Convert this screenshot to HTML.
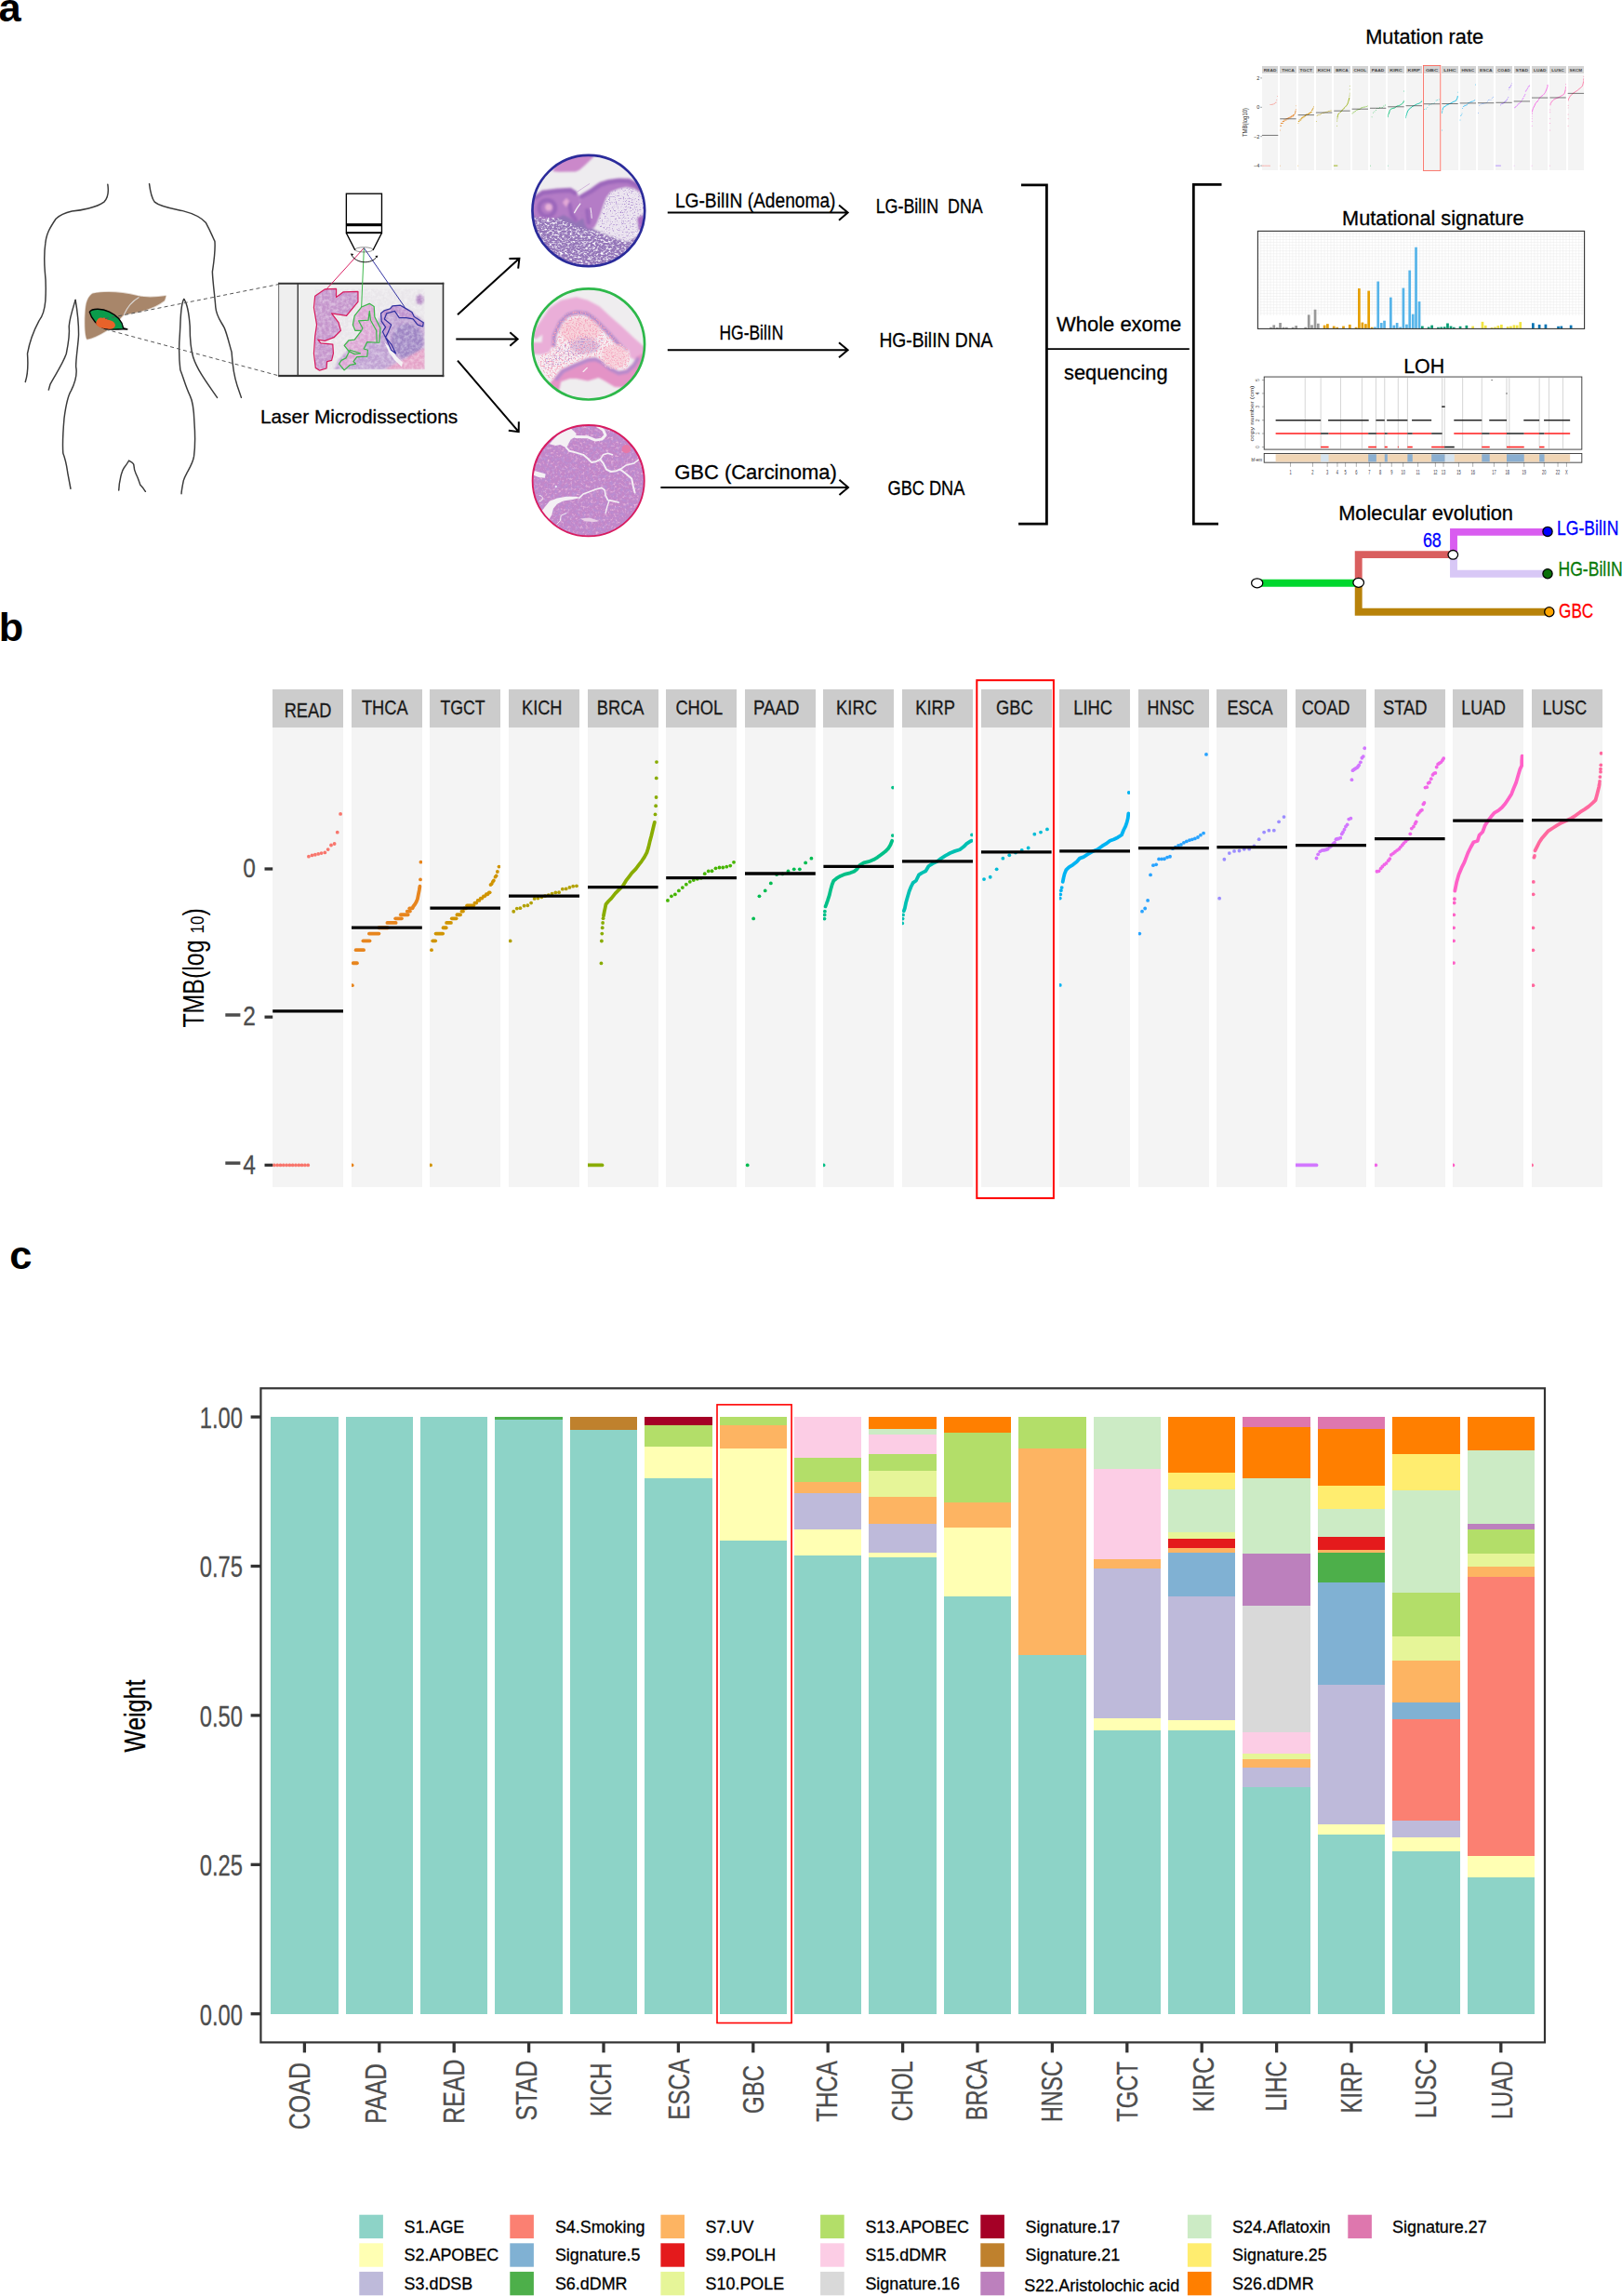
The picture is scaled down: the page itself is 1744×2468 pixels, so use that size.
<!DOCTYPE html>
<html><head><meta charset="utf-8"><title>Figure</title>
<style>html,body{margin:0;padding:0;background:#fff}svg{display:block}text{font-family:"Liberation Sans",sans-serif}</style>
</head><body>
<svg width="1744" height="2468" viewBox="0 0 1744 2468">
<rect width="1744" height="2468" fill="#fff"/>
<g id="panel-a">
<g transform="translate(10,180) scale(0.172622)" fill="none" stroke="#3A3A3A" stroke-width="8.5" stroke-linecap="round" stroke-linejoin="round">
<path d="M613,105 C620,150 615,190 590,215 C540,250 450,268 390,272 C330,285 305,305 290,320 C250,380 232,410 225,470 C215,540 218,600 222,650 C230,720 228,780 225,830 C220,890 205,930 185,955 C150,1020 125,1090 113,1160 C118,1230 115,1290 100,1335"/>
<path d="M412,825 C395,880 375,940 372,990 C378,1040 365,1110 355,1160 C330,1230 280,1300 255,1350 L245,1385"/>
<path d="M412,825 C425,900 432,960 432,1040 C430,1100 415,1180 415,1240 C425,1290 405,1350 385,1390 C360,1430 350,1500 342,1560 C335,1640 330,1720 335,1780 C355,1830 360,1880 365,1910 L382,2000"/>
<path d="M872,102 C878,150 890,195 905,215 C940,245 1010,255 1080,270 C1150,288 1200,315 1225,345 C1255,400 1265,430 1280,460 C1285,520 1275,580 1265,650 C1268,720 1280,800 1285,870 C1290,930 1320,960 1340,1000 C1360,1050 1370,1100 1385,1150 C1390,1230 1400,1300 1420,1360 L1445,1433"/>
<path d="M1088,820 C1110,850 1120,920 1125,990 C1125,1060 1130,1130 1145,1180 C1170,1260 1230,1340 1295,1433"/>
<path d="M1088,820 C1065,850 1068,950 1062,1040 C1055,1120 1058,1200 1065,1260 C1085,1310 1100,1370 1125,1420 C1145,1460 1150,1520 1152,1580 C1158,1660 1158,1740 1150,1800 C1140,1860 1100,1900 1085,1950 C1075,2000 1072,2020 1072,2032"/>
<path d="M682,2010 C685,1950 700,1890 715,1870 C730,1850 740,1835 745,1825 C765,1835 772,1842 775,1850 C778,1890 785,1900 790,1910 C805,1940 810,1960 815,1975 C830,1990 840,2005 848,2018"/>
</g>
<g transform="translate(10,180) scale(0.172622)">
<path d="M520,785 C600,770 700,775 800,800 C870,815 930,805 975,800 C972,815 970,822 965,830 C900,880 800,905 715,915 C680,950 640,1000 600,1020 C560,1045 520,1065 485,1070 C470,1050 468,950 475,880 C480,830 495,800 520,785 Z" fill="#A8866A" stroke="#E2D8D0" stroke-width="10" stroke-linejoin="round"/>
<path d="M520,785 C600,770 700,775 800,800 C870,815 930,805 975,800 C972,815 970,822 965,830 C900,880 800,905 715,915 C680,950 640,1000 600,1020 C560,1045 520,1065 485,1070 C470,1050 468,950 475,880 C480,830 495,800 520,785 Z" fill="#A8866A"/>
<path d="M808,808 C770,830 735,870 715,915" fill="none" stroke="#D9D5D2" stroke-width="7"/>
<path d="M500,900 C515,875 580,878 622,898 C672,922 705,958 710,1000 L735,1008 C690,1003 650,1015 600,1005 C545,985 510,940 500,900 Z" fill="#0A9B4B" stroke="#000" stroke-width="8" stroke-linejoin="round"/>
<path d="M540,965 C548,940 565,930 580,938 C595,930 605,940 612,948 C640,950 662,965 660,985 C655,1003 640,1008 620,1006 C600,1002 580,1002 565,996 C548,988 538,978 540,965 Z" fill="#E8622A"/>
</g>
<g stroke="#555" stroke-width="1" stroke-dasharray="4 3.2" fill="none"><line x1="113" y1="342.6" x2="299.5" y2="305.6"/><line x1="113.5" y1="354" x2="299.5" y2="403.8"/></g>
<g transform="translate(290,195) scale(0.123305)">
<rect x="80" y="888" width="1435" height="812" fill="#EFEFEF"/>
<g fill="#333"><rect x="76" y="882" width="1443" height="16"/><rect x="76" y="1686" width="1443" height="18"/><rect x="76" y="882" width="6" height="822"/><rect x="1506" y="882" width="13" height="822"/><rect x="240" y="890" width="11" height="800"/></g>
<defs><clipPath id="slc"><rect x="395" y="935" width="957" height="705"/></clipPath><filter id="spk" x="0" y="0" width="100%" height="100%"><feTurbulence type="fractalNoise" baseFrequency="0.035" numOctaves="3" seed="4"/><feColorMatrix type="matrix" values="0 0 0 0 1  0 0 0 0 1  0 0 0 0 1  1.6 0 0 0 -0.55"/></filter><filter id="blr"><feGaussianBlur stdDeviation="9"/></filter></defs>
<g clip-path="url(#slc)">
<rect x="395" y="935" width="957" height="705" fill="#E9E6EA"/>
<g filter="url(#blr)">
<path d="M560,1640 L600,1560 L680,1470 L760,1420 L860,1330 L930,1250 L960,1180 L1000,1130 L1100,1090 L1200,1110 L1300,1180 L1352,1230 L1352,1640 Z" fill="#BFA0D2"/>
<ellipse cx="1200" cy="1390" rx="135" ry="150" fill="#9F86C4"/>
<path d="M1000,1640 L1150,1560 L1352,1450 L1352,1640 Z" fill="#E5A3C8"/>
<ellipse cx="1310" cy="1030" rx="35" ry="45" fill="#B48AC4"/>
</g>
<path d="M395,1000 L480,940 L580,935 L580,1010 L640,965 L770,960 L770,1050 L670,1170 L540,1150 L600,1230 L620,1300 L560,1360 L480,1390 L420,1380 L445,1410 L550,1420 L555,1500 L540,1560 L500,1570 L495,1630 L435,1648 L400,1625 L385,1500 L395,1350 L410,1250 L385,1100 Z" fill="#C595CC"/>
<path d="M800,1095 L870,1065 L910,1090 L915,1180 L965,1280 L955,1405 L850,1400 L820,1460 L855,1470 L850,1525 L760,1530 L730,1570 L750,1590 L700,1600 L650,1645 L605,1590 L625,1560 L665,1540 L690,1480 L650,1430 L690,1385 L740,1380 L800,1300 L745,1300 L725,1250 L740,1170 Z" fill="#DCA6D4"/>
<path d="M970,1150 L1000,1125 L1050,1110 L1070,1085 L1140,1080 L1190,1110 L1240,1140 L1260,1180 L1340,1230 L1335,1265 L1290,1250 L1250,1200 L1190,1190 L1130,1190 L1090,1130 L1020,1150 L1000,1200 L1060,1250 L1030,1320 L1010,1360 L1060,1420 L1100,1500 L1060,1470 L1020,1380 L985,1310 L1010,1270 L975,1220 Z" fill="#BE92CE"/>
<path d="M1000,1400 L1040,1440 L1110,1530 L1160,1580 L1150,1615 L1090,1560 L1040,1490 Z" fill="#F3F0F3"/>
<rect x="395" y="935" width="957" height="705" filter="url(#spk)" opacity="0.55"/>
</g>
<g fill="none" stroke-width="8"><line x1="822" y1="580" x2="490" y2="945" stroke="#D81B60"/><line x1="822" y1="580" x2="800" y2="1095" stroke="#3CB84A"/><line x1="822" y1="580" x2="1180" y2="1100" stroke="#3030A0"/></g>
<path d="M395,1000 L480,940 L580,935 L580,1010 L640,965 L770,960 L770,1050 L670,1170 L540,1150 L600,1230 L620,1300 L560,1360 L480,1390 L420,1380 L445,1410 L550,1420 L555,1500 L540,1560 L500,1570 L495,1630 L435,1648 L400,1625 L385,1500 L395,1350 L410,1250 L385,1100 Z" fill="none" stroke="#D81B60" stroke-width="10" stroke-linejoin="round"/>
<path d="M800,1095 L870,1065 L910,1090 L915,1180 L965,1280 L955,1405 L935,1405 L930,1300 L880,1210 L870,1130 L860,1210 L775,1215 L810,1280 L800,1300 L745,1300 L725,1250 L740,1170 Z M800,1300 L740,1380 L690,1385 L650,1430 L690,1480 L740,1505 L790,1500 L700,1470 L665,1540 L625,1560 L605,1590 L650,1645 L700,1600 L750,1590 L730,1570 L760,1530 L850,1525 L855,1470 L820,1460 L850,1400 L935,1405" fill="none" stroke="#3CB84A" stroke-width="10" stroke-linejoin="round"/>
<path d="M970,1150 L1000,1125 L1050,1110 L1070,1085 L1140,1080 L1190,1110 L1240,1140 L1260,1180 L1340,1230 L1335,1265 L1290,1250 L1250,1200 L1190,1190 L1130,1190 L1090,1130 L1020,1150 L1000,1200 L1060,1250 L1030,1320 L1010,1360 L1060,1420 L1100,1500 L1060,1470 L1020,1380 L985,1310 L1010,1270 L975,1220 Z" fill="none" stroke="#3030A0" stroke-width="10" stroke-linejoin="round"/>
<g fill="none" stroke="#000" stroke-width="11"><rect x="668" y="107" width="309" height="343"/><path d="M668,450 L745,600 M977,450 L900,600"/><line x1="668" y1="445" x2="977" y2="445"/></g>
<rect x="668" y="366" width="309" height="25" fill="#000"/>
<ellipse cx="822" cy="595" rx="78" ry="21" fill="none" stroke="#222" stroke-width="4"/>
<path d="M712,637 C750,720 890,725 935,655" fill="none" stroke="#111" stroke-width="8"/>
<path d="M704,628 l28,5 l-15,18 z M944,646 l-26,3 l18,18 z" fill="#111"/>
</g>
<text x="279.9" y="455.2" font-size="20.6" fill="#000" stroke="#000" stroke-width="0.3" textLength="212.3" lengthAdjust="spacingAndGlyphs">Laser Microdissections</text>
<path d="M492,338.2 L558.4,277.8 M557.16,288.73 L558.4,277.8 L547.4,278" fill="none" stroke="#000" stroke-width="2" stroke-linejoin="miter"/>
<path d="M490.3,364.4 L556.6,364.4 M548.33,371.65 L556.6,364.4 L548.33,357.15" fill="none" stroke="#000" stroke-width="2" stroke-linejoin="miter"/>
<path d="M492,387.6 L557.7,464.2 M546.81,462.64 L557.7,464.2 L557.82,453.2" fill="none" stroke="#000" stroke-width="2" stroke-linejoin="miter"/>
<path d="M717.8,228.6 L911.6,228.6 M902.04,236.65 L911.6,228.6 L902.04,220.55" fill="none" stroke="#000" stroke-width="2" stroke-linejoin="miter"/>
<path d="M717.8,376.3 L911.6,376.3 M902.04,384.35 L911.6,376.3 L902.04,368.25" fill="none" stroke="#000" stroke-width="2" stroke-linejoin="miter"/>
<path d="M710.4,523.9 L912,523.9 M902.44,531.95 L912,523.9 L902.44,515.85" fill="none" stroke="#000" stroke-width="2" stroke-linejoin="miter"/>
<text x="725.9" y="223.2" font-size="22.4" fill="#000" stroke="#000" stroke-width="0.3" textLength="172.6" lengthAdjust="spacingAndGlyphs">LG-BilIN (Adenoma)</text>
<text x="941.7" y="228.8" font-size="21.8" fill="#000" stroke="#000" stroke-width="0.3" textLength="115.1" lengthAdjust="spacingAndGlyphs" style="white-space:pre">LG-BilIN  DNA</text>
<text x="773.5" y="365.4" font-size="21.8" fill="#000" stroke="#000" stroke-width="0.3" textLength="68.8" lengthAdjust="spacingAndGlyphs">HG-BilIN</text>
<text x="945.4" y="373.1" font-size="21.8" fill="#000" stroke="#000" stroke-width="0.3" textLength="122.1" lengthAdjust="spacingAndGlyphs">HG-BilIN DNA</text>
<text x="725.2" y="514.7" font-size="22.4" fill="#000" stroke="#000" stroke-width="0.3" textLength="174.6" lengthAdjust="spacingAndGlyphs">GBC (Carcinoma)</text>
<text x="954.5" y="532.4" font-size="21.8" fill="#000" stroke="#000" stroke-width="0.3" textLength="82.9" lengthAdjust="spacingAndGlyphs">GBC DNA</text>
<path d="M1098,198.8 L1125.4,198.8 L1125.4,563.2 L1095.1,563.2" fill="none" stroke="#000" stroke-width="2.8"/>
<path d="M1313.5,198.4 L1283.3,198.4 L1283.3,563.2 L1310,563.2" fill="none" stroke="#000" stroke-width="2.8"/>
<line x1="1126" y1="375.1" x2="1278.8" y2="375.1" stroke="#000" stroke-width="1.9"/>
<text x="1136.1" y="355.5" font-size="21.5" fill="#000" stroke="#000" stroke-width="0.3" textLength="134.2" lengthAdjust="spacingAndGlyphs">Whole exome</text>
<text x="1144.1" y="407.6" font-size="21.5" fill="#000" stroke="#000" stroke-width="0.3" textLength="111.4" lengthAdjust="spacingAndGlyphs">sequencing</text>
<defs><clipPath id="cc1"><ellipse cx="809" cy="806" rx="733" ry="724"/></clipPath><clipPath id="cc2"><ellipse cx="808" cy="822" rx="732" ry="723"/></clipPath><clipPath id="cc3"><ellipse cx="807" cy="807" rx="728" ry="723"/></clipPath><filter id="wsp" x="0" y="0" width="100%" height="100%"><feTurbulence type="fractalNoise" baseFrequency="0.03 0.045" numOctaves="2" seed="7"/><feColorMatrix type="matrix" values="0 0 0 0 0.97  0 0 0 0 0.95  0 0 0 0 0.98  3.4 0 0 0 -1.55"/><feComposite in2="SourceAlpha" operator="in"/></filter><filter id="psp" x="0" y="0" width="100%" height="100%"><feTurbulence type="fractalNoise" baseFrequency="0.055" numOctaves="2" seed="11"/><feColorMatrix type="matrix" values="0 0 0 0 0.4  0 0 0 0 0.25  0 0 0 0 0.62  3.6 0 0 0 -1.95"/><feComposite in2="SourceAlpha" operator="in"/></filter><filter id="rsp" x="0" y="0" width="100%" height="100%"><feTurbulence type="fractalNoise" baseFrequency="0.05" numOctaves="2" seed="3"/><feColorMatrix type="matrix" values="0 0 0 0 0.91  0 0 0 0 0.36  0 0 0 0 0.5  4 0 0 0 -1.9"/><feComposite in2="SourceAlpha" operator="in"/></filter><filter id="rsp2" x="0" y="0" width="100%" height="100%"><feTurbulence type="fractalNoise" baseFrequency="0.08" numOctaves="2" seed="9"/><feColorMatrix type="matrix" values="0 0 0 0 0.95  0 0 0 0 0.55  0 0 0 0 0.65  4 0 0 0 -1.9"/><feComposite in2="SourceAlpha" operator="in"/></filter><filter id="dsp" x="0" y="0" width="100%" height="100%"><feTurbulence type="fractalNoise" baseFrequency="0.022" numOctaves="3" seed="21"/><feColorMatrix type="matrix" values="0 0 0 0 0.48  0 0 0 0 0.28  0 0 0 0 0.66  3.0 0 0 0 -1.3"/><feComposite in2="SourceAlpha" operator="in"/></filter><filter id="lsp" x="0" y="0" width="100%" height="100%"><feTurbulence type="fractalNoise" baseFrequency="0.03" numOctaves="3" seed="5"/><feColorMatrix type="matrix" values="0 0 0 0 0.93  0 0 0 0 0.62  0 0 0 0 0.8  2.6 0 0 0 -1.3"/><feComposite in2="SourceAlpha" operator="in"/></filter><filter id="nsp" x="0" y="0" width="100%" height="100%"><feTurbulence type="fractalNoise" baseFrequency="0.05" numOctaves="2" seed="31"/><feColorMatrix type="matrix" values="0 0 0 0 0.45  0 0 0 0 0.25  0 0 0 0 0.62  3.0 0 0 0 -1.5"/><feComposite in2="SourceAlpha" operator="in"/></filter><filter id="b4" x="-10%" y="-10%" width="120%" height="120%"><feGaussianBlur stdDeviation="13"/></filter><filter id="b2" x="-10%" y="-10%" width="120%" height="120%"><feGaussianBlur stdDeviation="6"/></filter></defs>
<g transform="translate(566,160) scale(0.082617)">
<g clip-path="url(#cc1)">
<rect x="0" y="0" width="1622" height="1622" fill="#EEECEF"/>
<g filter="url(#b4)">
<path d="M40,700 L720,700 L780,1000 L900,1060 L1000,1095 L1300,1200 L1520,1000 L1620,1000 L1620,1620 L0,1620 Z" fill="#9474B8"/>
<path d="M1040,640 L1100,560 L1200,520 L1300,500 L1400,520 L1480,570 L1560,700 L1600,1000 L1420,1150 L1300,1210 L1000,1100 L930,980 L960,860 L1000,740 Z" fill="#ECE5F0"/>
<path d="M340,290 L420,300 L640,297 L690,275 L770,205 L880,100 L800,40 L560,60 L400,180 Z" fill="#CB88CA"/>
<path d="M60,660 L200,540 L400,515 L580,505 L650,550 L690,640 L720,800 L740,900 L640,960 L560,900 L480,860 L400,900 L250,920 L120,890 L50,800 Z" fill="#B47CC6"/>
<path d="M670,620 L750,570 L830,520 L900,470 L960,430 L1060,400 L1200,380 L1340,385 L1440,440 L1560,540 L1600,720 L1480,570 L1400,520 L1300,500 L1200,520 L1100,560 L1040,640 L1000,740 L960,860 L920,960 L880,1030 L800,1040 L760,980 L740,900 L720,800 L690,640 Z" fill="#B47CC6"/>
<path d="M1440,900 L1520,850 L1560,1080 L1460,1060 Z" fill="#A868C0"/>
<g fill="none" stroke="#9560B8" stroke-linecap="round" stroke-linejoin="round" stroke-width="55" opacity="0.75">
<path d="M110,640 L210,575 L400,550 L570,540 L630,575"/>
<path d="M720,620 L840,555 L960,470 L1070,435 L1200,415 L1330,420 L1430,470 L1520,560"/>
<path d="M560,720 L590,860 L640,920"/><path d="M790,800 L810,960"/>
<circle cx="270" cy="770" r="105" stroke-width="55"/>
</g>
<circle cx="290" cy="760" r="45" fill="#E6B0D8"/>
<path d="M470,700 L520,640 L560,680 L520,760 Z" fill="#E2A8D6"/>
</g>
<g filter="url(#b2)" fill="none" stroke="#F3EEF3" stroke-linecap="round"><path d="M625,830 L660,770 L700,715" stroke-width="16"/><path d="M835,770 L845,840 L850,900" stroke-width="12"/><path d="M660,560 L720,520 L820,455" stroke="#C9A8D6" stroke-width="10"/></g>
<path d="M40,880 L400,900 L620,985 L780,1045 L900,1062 L1000,1095 L1300,1200 L1520,1000 L1620,1000 L1620,1620 L0,1620 Z" filter="url(#wsp)"/>
<path d="M1040,640 L1100,560 L1200,520 L1300,500 L1400,520 L1480,570 L1560,700 L1600,1000 L1420,1150 L1300,1210 L1000,1100 L930,980 L960,860 L1000,740 Z" filter="url(#psp)"/>
</g>
<ellipse cx="809" cy="806" rx="731" ry="722" fill="none" stroke="#2B2B9B" stroke-width="32"/>
</g>
<g transform="translate(566,302) scale(0.082617)">
<g clip-path="url(#cc2)">
<rect x="0" y="0" width="1622" height="1622" fill="#EFEDEF"/>
<g filter="url(#b4)">
<path d="M330,860 L340,700 L420,520 L520,420 L650,380 L800,400 L900,470 L1050,620 L1200,780 L1330,900 L1355,1010 L1300,1150 L1200,1170 L1100,1120 L1000,1040 L900,990 L800,1000 L600,1080 L450,1150 L340,1290 L250,1230 L150,1060 L200,960 L300,930 Z" fill="#F6EEF2"/>
<path d="M60,700 L200,500 L300,350 L450,250 L650,210 L800,250 L950,330 L1100,470 L1250,600 L1400,740 L1560,880 L1600,1100 L1350,1000 L1330,900 L1200,780 L1050,620 L900,470 L800,400 L650,380 L520,420 L420,520 L340,700 L330,860 L300,930 L200,960 L60,950 L60,800 L200,800 L210,700 L120,760 Z" fill="#EAAED8"/>
<path d="M355,860 L365,705 L440,540 L535,445 L650,410 L790,428 L885,495 L1030,640 L1180,800 L1300,915" fill="none" stroke="#B48ACC" stroke-width="55" stroke-linejoin="round"/>
<path d="M330,1300 L450,1150 L600,1080 L800,1000 L900,990 L1000,1040 L1100,1120 L1200,1170 L1300,1150 L1380,1080 L1440,980 L1600,900 L1600,1300 L1300,1385 L1150,1380 L1020,1300 L940,1260 L800,1300 L650,1270 L560,1270 L450,1310 L430,1400 L380,1500 L250,1400 Z" fill="#E493C6"/>
<path d="M380,1290 L470,1180 L610,1110 L800,1030 L900,1020 L990,1065 L1090,1145 L1200,1200 L1310,1180 L1400,1100 L1460,1000" fill="none" stroke="#B88ACC" stroke-width="50" stroke-linejoin="round"/>
<ellipse cx="700" cy="650" rx="260" ry="170" fill="#F7D3DB"/>
<ellipse cx="1150" cy="980" rx="170" ry="150" fill="#F7D9E0"/>
<ellipse cx="760" cy="850" rx="190" ry="100" fill="#DFC2DC"/>
</g>
<path d="M740,1180 L790,1130" stroke="#F6EEF2" stroke-width="16" stroke-linecap="round" filter="url(#b2)"/>
<path d="M330,860 L340,700 L420,520 L520,420 L650,380 L800,400 L900,470 L1050,620 L1200,780 L1330,900 L1355,1010 L1300,1150 L1200,1170 L1100,1120 L1000,1040 L900,990 L800,1000 L600,1080 L450,1150 L340,1290 L250,1230 L150,1060 L200,960 L300,930 Z" filter="url(#rsp)"/>
<ellipse cx="1150" cy="980" rx="200" ry="170" filter="url(#rsp2)"/>
<path d="M520,780 L760,700 L1000,760 L950,900 L700,980 L400,1100 L200,1150 L250,1000 Z" filter="url(#psp)"/>
</g>
<ellipse cx="808" cy="822" rx="730" ry="721" fill="none" stroke="#2DB84A" stroke-width="32"/>
</g>
<g transform="translate(566,450) scale(0.082617)">
<g clip-path="url(#cc3)">
<rect x="0" y="0" width="1622" height="1622" fill="#C487C8"/>
<rect x="0" y="0" width="1622" height="1622" filter="url(#lsp)" opacity="0.8"/>
<rect x="0" y="0" width="1622" height="1622" filter="url(#dsp)" opacity="0.85"/>
<rect x="0" y="0" width="1622" height="1622" filter="url(#nsp)" opacity="0.6"/>
<g filter="url(#b2)" fill="none" stroke="#F4F0F4" stroke-linejoin="round" stroke-linecap="round">
<path d="M300,330 L420,200 L580,130 L650,195 L640,240 L580,270 L550,320 L520,380 L440,340 L380,350 Z" fill="#F4F0F4" stroke="none"/>
<path d="M640,235 L800,240 L900,280 L980,268 L1030,215 L1000,150 L930,100" stroke-width="36"/>
<path d="M520,380 L560,420 L640,440 L740,470 L800,520 L850,570 L900,560 L960,530 L1000,580 L1040,660 L1100,690 L1170,680 L1220,660 L1300,720 L1370,780 L1390,880 L1410,960" stroke-width="24"/>
<path d="M960,530 L1000,470 L1060,450 L1120,470" stroke-width="18"/>
<path d="M1220,660 L1300,605 L1400,580 L1460,535" stroke-width="18"/>
<path d="M90,675 L180,700 L250,720 L240,772 L160,762 L90,735 Z" fill="#F4F0F4" stroke="none"/>
<circle cx="385" cy="885" r="14" fill="#F4F0F4" stroke="none"/>
<path d="M200,1200 L300,1075 L400,1035 L520,1015 L650,1015 L700,1030 L600,1052 L480,1072 L400,1112 L350,1172 L330,1252 L290,1320 Z" fill="#F4F0F4" stroke="none"/>
<path d="M690,1030 L740,980 L800,960 L900,920 L980,900 L1020,930 L1030,1000 L1060,1060 L1120,1070 L1200,1090" stroke-width="20"/>
<path d="M1075,1075 L1050,1150 L1030,1230" stroke-width="16"/>
<path d="M520,1230 L450,1260 L440,1330 L400,1370" stroke-width="12"/>
<path d="M170,1000 C230,1000 220,1080 170,1075" stroke-width="12"/>
<ellipse cx="1300" cy="395" rx="60" ry="55" fill="#E678A8" stroke="none"/>
<path d="M700,1300 L820,1290 L950,1330 L880,1345 L760,1335 Z" fill="#E8D0E6" stroke="none"/>
</g>
</g>
<ellipse cx="807" cy="807" rx="727" ry="722" fill="none" stroke="#D81B60" stroke-width="22"/>
</g>
<g shape-rendering="crispEdges">
<rect x="1356.9" y="71" width="17.4" height="8" fill="#D4D4D4"/>
<rect x="1356.9" y="80" width="17.4" height="103.1" fill="#F4F4F4"/>
<rect x="1376.24" y="71" width="17.4" height="8" fill="#D4D4D4"/>
<rect x="1376.24" y="80" width="17.4" height="103.1" fill="#F4F4F4"/>
<rect x="1395.58" y="71" width="17.4" height="8" fill="#D4D4D4"/>
<rect x="1395.58" y="80" width="17.4" height="103.1" fill="#F4F4F4"/>
<rect x="1414.92" y="71" width="17.4" height="8" fill="#D4D4D4"/>
<rect x="1414.92" y="80" width="17.4" height="103.1" fill="#F4F4F4"/>
<rect x="1434.26" y="71" width="17.4" height="8" fill="#D4D4D4"/>
<rect x="1434.26" y="80" width="17.4" height="103.1" fill="#F4F4F4"/>
<rect x="1453.6" y="71" width="17.4" height="8" fill="#D4D4D4"/>
<rect x="1453.6" y="80" width="17.4" height="103.1" fill="#F4F4F4"/>
<rect x="1472.94" y="71" width="17.4" height="8" fill="#D4D4D4"/>
<rect x="1472.94" y="80" width="17.4" height="103.1" fill="#F4F4F4"/>
<rect x="1492.28" y="71" width="17.4" height="8" fill="#D4D4D4"/>
<rect x="1492.28" y="80" width="17.4" height="103.1" fill="#F4F4F4"/>
<rect x="1511.62" y="71" width="17.4" height="8" fill="#D4D4D4"/>
<rect x="1511.62" y="80" width="17.4" height="103.1" fill="#F4F4F4"/>
<rect x="1530.96" y="71" width="17.4" height="8" fill="#D4D4D4"/>
<rect x="1530.96" y="80" width="17.4" height="103.1" fill="#F4F4F4"/>
<rect x="1550.3" y="71" width="17.4" height="8" fill="#D4D4D4"/>
<rect x="1550.3" y="80" width="17.4" height="103.1" fill="#F4F4F4"/>
<rect x="1569.64" y="71" width="17.4" height="8" fill="#D4D4D4"/>
<rect x="1569.64" y="80" width="17.4" height="103.1" fill="#F4F4F4"/>
<rect x="1588.98" y="71" width="17.4" height="8" fill="#D4D4D4"/>
<rect x="1588.98" y="80" width="17.4" height="103.1" fill="#F4F4F4"/>
<rect x="1608.32" y="71" width="17.4" height="8" fill="#D4D4D4"/>
<rect x="1608.32" y="80" width="17.4" height="103.1" fill="#F4F4F4"/>
<rect x="1627.66" y="71" width="17.4" height="8" fill="#D4D4D4"/>
<rect x="1627.66" y="80" width="17.4" height="103.1" fill="#F4F4F4"/>
<rect x="1647" y="71" width="17.4" height="8" fill="#D4D4D4"/>
<rect x="1647" y="80" width="17.4" height="103.1" fill="#F4F4F4"/>
<rect x="1666.34" y="71" width="17.4" height="8" fill="#D4D4D4"/>
<rect x="1666.34" y="80" width="17.4" height="103.1" fill="#F4F4F4"/>
<rect x="1685.68" y="71" width="17.4" height="8" fill="#D4D4D4"/>
<rect x="1685.68" y="80" width="17.4" height="103.1" fill="#F4F4F4"/>
</g>
<g fill="#F8766D"><circle cx="1357.29" cy="178.1" r="0.45"/><circle cx="1358.04" cy="178.1" r="0.45"/><circle cx="1358.8" cy="178.1" r="0.45"/><circle cx="1359.56" cy="178.1" r="0.45"/><circle cx="1360.31" cy="178.1" r="0.45"/><circle cx="1361.07" cy="178.1" r="0.45"/><circle cx="1361.82" cy="178.1" r="0.45"/><circle cx="1362.58" cy="178.1" r="0.45"/><circle cx="1363.33" cy="178.1" r="0.45"/><circle cx="1364.09" cy="178.1" r="0.45"/><circle cx="1364.84" cy="178.1" r="0.45"/><circle cx="1365.6" cy="178.1" r="0.45"/><circle cx="1365.77" cy="112.67" r="0.45"/><circle cx="1366.58" cy="112.42" r="0.45"/><circle cx="1367.35" cy="112.29" r="0.45"/><circle cx="1368.12" cy="112.13" r="0.45"/><circle cx="1368.89" cy="111.96" r="0.45"/><circle cx="1369.75" cy="111.84" r="0.45"/><circle cx="1370.52" cy="111.18" r="0.45"/><circle cx="1371.28" cy="110.27" r="0.45"/><circle cx="1372.1" cy="109.98" r="0.45"/><circle cx="1372.82" cy="107.54" r="0.45"/><circle cx="1373.59" cy="103.65" r="0.45"/></g>
<line x1="1356.9" x2="1374.3" y1="145.44" y2="145.44" stroke="#222" stroke-width="0.6"/>
<polyline points="1376.68,135.27 1377.64,135.27" fill="none" stroke="#E88526" stroke-width="0.9" stroke-linecap="round" stroke-linejoin="round"/>
<polyline points="1377.35,132.5 1379.27,132.5" fill="none" stroke="#E88526" stroke-width="0.9" stroke-linecap="round" stroke-linejoin="round"/>
<polyline points="1379.13,130.54 1380.76,130.54" fill="none" stroke="#E88526" stroke-width="0.9" stroke-linecap="round" stroke-linejoin="round"/>
<polyline points="1380.61,129.02 1383.01,129.02" fill="none" stroke="#E88526" stroke-width="0.9" stroke-linecap="round" stroke-linejoin="round"/>
<polyline points="1383.01,127.78 1385.17,127.78" fill="none" stroke="#E88526" stroke-width="0.9" stroke-linecap="round" stroke-linejoin="round"/>
<polyline points="1385.08,126.73 1387.19,126.73" fill="none" stroke="#E88526" stroke-width="0.9" stroke-linecap="round" stroke-linejoin="round"/>
<polyline points="1387.09,125.82 1388.63,125.82" fill="none" stroke="#E88526" stroke-width="0.9" stroke-linecap="round" stroke-linejoin="round"/>
<polyline points="1388.39,125.01 1390.16,125.01" fill="none" stroke="#E88526" stroke-width="0.9" stroke-linecap="round" stroke-linejoin="round"/>
<polyline points="1389.97,124.29 1390.69,124.29" fill="none" stroke="#E88526" stroke-width="0.9" stroke-linecap="round" stroke-linejoin="round"/>
<polyline points="1390.55,123.64 1391.27,123.64" fill="none" stroke="#E88526" stroke-width="0.9" stroke-linecap="round" stroke-linejoin="round"/>
<polyline points="1391.41,123.33 1391.89,122.79 1392.23,122.3 1392.52,121.68 1392.71,120.85 1392.95,119.82 1393.09,118.99" fill="none" stroke="#E88526" stroke-width="0.9" stroke-linecap="round" stroke-linejoin="round"/>
<g fill="#E88526"><circle cx="1376.42" cy="178.1" r="0.45"/><circle cx="1376.49" cy="139.99" r="0.45"/><circle cx="1393.24" cy="117.54" r="0.45"/><circle cx="1393.33" cy="113.86" r="0.45"/></g>
<line x1="1376.24" x2="1393.64" y1="127.77" y2="127.77" stroke="#222" stroke-width="0.6"/>
<polyline points="1396.23,130.54 1396.9,130.54" fill="none" stroke="#D39200" stroke-width="0.9" stroke-linecap="round" stroke-linejoin="round"/>
<polyline points="1397,129.02 1398.73,129.02" fill="none" stroke="#D39200" stroke-width="0.9" stroke-linecap="round" stroke-linejoin="round"/>
<polyline points="1398.82,127.78 1399.54,127.78" fill="none" stroke="#D39200" stroke-width="0.9" stroke-linecap="round" stroke-linejoin="round"/>
<polyline points="1399.64,126.73 1400.74,126.73" fill="none" stroke="#D39200" stroke-width="0.9" stroke-linecap="round" stroke-linejoin="round"/>
<polyline points="1400.93,125.82 1402.04,125.82" fill="none" stroke="#D39200" stroke-width="0.9" stroke-linecap="round" stroke-linejoin="round"/>
<polyline points="1402.23,125.01 1403.04,125.01" fill="none" stroke="#D39200" stroke-width="0.9" stroke-linecap="round" stroke-linejoin="round"/>
<polyline points="1403.38,124.29 1403.72,124.29" fill="none" stroke="#D39200" stroke-width="0.9" stroke-linecap="round" stroke-linejoin="round"/>
<polyline points="1403.96,123.64 1404.44,123.64" fill="none" stroke="#D39200" stroke-width="0.9" stroke-linecap="round" stroke-linejoin="round"/>
<polyline points="1404.68,123.05 1406.31,123.05" fill="none" stroke="#D39200" stroke-width="0.9" stroke-linecap="round" stroke-linejoin="round"/>
<polyline points="1406.6,122.51 1406.98,122.51" fill="none" stroke="#D39200" stroke-width="0.9" stroke-linecap="round" stroke-linejoin="round"/>
<polyline points="1407.32,122 1407.7,122" fill="none" stroke="#D39200" stroke-width="0.9" stroke-linecap="round" stroke-linejoin="round"/>
<polyline points="1408.04,121.53 1408.37,121.53" fill="none" stroke="#D39200" stroke-width="0.9" stroke-linecap="round" stroke-linejoin="round"/>
<polyline points="1408.76,121.09 1409.04,121.09" fill="none" stroke="#D39200" stroke-width="0.9" stroke-linecap="round" stroke-linejoin="round"/>
<polyline points="1409.43,120.68 1409.76,120.68" fill="none" stroke="#D39200" stroke-width="0.9" stroke-linecap="round" stroke-linejoin="round"/>
<polyline points="1410.1,120.29 1410.29,120.29" fill="none" stroke="#D39200" stroke-width="0.9" stroke-linecap="round" stroke-linejoin="round"/>
<g fill="#D39200"><circle cx="1395.72" cy="178.1" r="0.45"/><circle cx="1395.94" cy="132.5" r="0.45"/><circle cx="1410.48" cy="118.66" r="0.45"/><circle cx="1410.72" cy="118.49" r="0.45"/><circle cx="1411.01" cy="118.04" r="0.45"/><circle cx="1411.25" cy="117.75" r="0.45"/><circle cx="1411.64" cy="117.01" r="0.45"/><circle cx="1411.88" cy="116.76" r="0.45"/><circle cx="1412.16" cy="115.89" r="0.45"/><circle cx="1412.55" cy="114.82" r="0.45"/></g>
<line x1="1395.58" x2="1412.98" y1="123.62" y2="123.62" stroke="#222" stroke-width="0.6"/>
<g fill="#B79F00"><circle cx="1415.3" cy="130.57" r="0.45"/><circle cx="1416.12" cy="124.32" r="0.45"/><circle cx="1416.93" cy="123.7" r="0.45"/><circle cx="1417.75" cy="123.62" r="0.45"/><circle cx="1418.71" cy="123.13" r="0.45"/><circle cx="1419.57" cy="123.04" r="0.45"/><circle cx="1420.44" cy="122.51" r="0.45"/><circle cx="1421.25" cy="121.6" r="0.45"/><circle cx="1422.12" cy="121.51" r="0.45"/><circle cx="1423.03" cy="121.26" r="0.45"/><circle cx="1423.84" cy="121.06" r="0.45"/><circle cx="1424.71" cy="120.85" r="0.45"/><circle cx="1425.57" cy="120.56" r="0.45"/><circle cx="1426.44" cy="120.31" r="0.45"/><circle cx="1427.3" cy="120.27" r="0.45"/><circle cx="1428.16" cy="119.57" r="0.45"/><circle cx="1429.03" cy="119.53" r="0.45"/><circle cx="1429.89" cy="119.24" r="0.45"/><circle cx="1430.76" cy="118.99" r="0.45"/><circle cx="1431.62" cy="118.91" r="0.45"/></g>
<line x1="1414.92" x2="1432.32" y1="121.06" y2="121.06" stroke="#222" stroke-width="0.6"/>
<polyline points="1434.35,178.1 1437.9,178.1" fill="none" stroke="#93AA00" stroke-width="0.9" stroke-linecap="round" stroke-linejoin="round"/>
<polyline points="1438.23,125.25 1438.43,124.34 1438.62,123.6 1438.81,122.77 1439.43,122.15 1440.15,121.53 1441.11,120.5 1442.07,119.67 1443.03,118.84 1443.75,117.81 1444.47,116.98 1445.19,116.16 1446.15,115.33 1446.87,114.5 1447.59,113.68 1448.31,112.77 1448.89,111.82 1449.27,110.78 1449.61,109.54 1449.99,108.3 1450.33,107.06 1450.62,106.03 1450.81,105.41" fill="none" stroke="#93AA00" stroke-width="0.9" stroke-linecap="round" stroke-linejoin="round"/>
<g fill="#93AA00"><circle cx="1437.66" cy="135.3" r="0.45"/><circle cx="1437.76" cy="130.59" r="0.45"/><circle cx="1437.85" cy="129.02" r="0.45"/><circle cx="1437.95" cy="127.78" r="0.45"/><circle cx="1438.04" cy="126.74" r="0.45"/><circle cx="1438.14" cy="125.79" r="0.45"/><circle cx="1450.95" cy="103.75" r="0.45"/><circle cx="1451.1" cy="101.94" r="0.45"/><circle cx="1451.19" cy="100.12" r="0.45"/><circle cx="1451.24" cy="96.06" r="0.45"/><circle cx="1451.29" cy="92.63" r="0.45"/></g>
<line x1="1434.26" x2="1451.66" y1="119.17" y2="119.17" stroke="#222" stroke-width="0.6"/>
<g fill="#5EB300"><circle cx="1454" cy="121.99" r="0.45"/><circle cx="1454.91" cy="121.08" r="0.45"/><circle cx="1455.82" cy="120.71" r="0.45"/><circle cx="1456.73" cy="119.92" r="0.45"/><circle cx="1457.64" cy="119.26" r="0.45"/><circle cx="1458.55" cy="118.6" r="0.45"/><circle cx="1459.47" cy="118.02" r="0.45"/><circle cx="1460.38" cy="117.69" r="0.45"/><circle cx="1461.29" cy="117.44" r="0.45"/><circle cx="1462.2" cy="117.23" r="0.45"/><circle cx="1463.11" cy="116.32" r="0.45"/><circle cx="1464.03" cy="115.79" r="0.45"/><circle cx="1464.89" cy="115.74" r="0.45"/><circle cx="1465.8" cy="115.17" r="0.45"/><circle cx="1466.71" cy="115" r="0.45"/><circle cx="1467.58" cy="115" r="0.45"/><circle cx="1468.49" cy="114.83" r="0.45"/><circle cx="1469.4" cy="114.63" r="0.45"/><circle cx="1470.26" cy="113.88" r="0.45"/></g>
<line x1="1453.6" x2="1471" y1="117.19" y2="117.19" stroke="#222" stroke-width="0.6"/>
<g fill="#00BA38"><circle cx="1473.6" cy="178.1" r="0.45"/><circle cx="1475.08" cy="125.83" r="0.45"/><circle cx="1476.52" cy="121.08" r="0.45"/><circle cx="1477.96" cy="119.92" r="0.45"/><circle cx="1479.35" cy="118.35" r="0.45"/><circle cx="1480.79" cy="116.49" r="0.45"/><circle cx="1482.23" cy="116.36" r="0.45"/><circle cx="1483.62" cy="115.79" r="0.45"/><circle cx="1485.06" cy="115.37" r="0.45"/><circle cx="1486.46" cy="115.37" r="0.45"/><circle cx="1487.9" cy="114.01" r="0.45"/><circle cx="1489.34" cy="113.06" r="0.45"/></g>
<line x1="1472.94" x2="1490.34" y1="116.29" y2="116.29" stroke="#222" stroke-width="0.6"/>
<polyline points="1492.76,123.27 1493,122.77 1493.34,121.95 1493.72,120.91 1494.06,119.67 1494.39,118.64 1494.78,117.81 1495.5,117.32 1496.46,116.82 1497.66,116.41 1498.86,116.16 1499.82,115.83 1500.54,115.33 1501.26,114.5 1502.22,114.01 1503.42,113.76 1504.62,113.35 1505.58,112.85 1506.54,112.23 1507.5,111.61 1508.22,110.99 1508.79,110.16 1509.18,109.34" fill="none" stroke="#00BF74" stroke-width="0.9" stroke-linecap="round" stroke-linejoin="round"/>
<g fill="#00BF74"><circle cx="1492.33" cy="178.1" r="0.45"/><circle cx="1492.52" cy="125.87" r="0.45"/><circle cx="1492.57" cy="125.05" r="0.45"/><circle cx="1492.62" cy="124.3" r="0.45"/><circle cx="1509.32" cy="108.22" r="0.45"/><circle cx="1509.37" cy="98.05" r="0.45"/></g>
<line x1="1492.28" x2="1509.68" y1="114.79" y2="114.79" stroke="#222" stroke-width="0.6"/>
<polyline points="1512.05,124.22 1512.29,123.6 1512.53,122.57 1512.86,121.53 1513.34,120.09 1513.82,119.05 1514.3,118.22 1515.02,117.81 1515.74,116.57 1516.46,116.16 1517.42,115.74 1518.14,114.71 1519.1,114.17 1520.3,113.68 1521.26,113.06 1522.22,112.52 1523.42,111.94 1524.62,111.53 1525.82,111.2 1526.78,110.58 1527.5,109.96 1528.22,109.54 1528.7,109.34" fill="none" stroke="#00C19F" stroke-width="0.9" stroke-linecap="round" stroke-linejoin="round"/>
<g fill="#00C19F"><circle cx="1511.66" cy="126.82" r="0.45"/><circle cx="1511.76" cy="125.87" r="0.45"/><circle cx="1511.86" cy="125.05" r="0.45"/><circle cx="1528.8" cy="108.1" r="0.45"/></g>
<line x1="1511.62" x2="1529.02" y1="113.68" y2="113.68" stroke="#222" stroke-width="0.6"/>
<g fill="#00BFC4"><circle cx="1531.74" cy="117.48" r="0.45"/><circle cx="1533.28" cy="117.03" r="0.45"/><circle cx="1534.86" cy="115.37" r="0.45"/><circle cx="1536.4" cy="113.06" r="0.45"/><circle cx="1537.98" cy="112.4" r="0.45"/><circle cx="1539.52" cy="111.86" r="0.45"/><circle cx="1541.05" cy="111.32" r="0.45"/><circle cx="1542.64" cy="110.87" r="0.45"/><circle cx="1544.17" cy="107.93" r="0.45"/><circle cx="1545.71" cy="107.52" r="0.45"/><circle cx="1547.29" cy="106.9" r="0.45"/></g>
<line x1="1530.96" x2="1548.36" y1="111.73" y2="111.73" stroke="#222" stroke-width="0.6"/>
<polyline points="1551.1,118.02 1551.29,117.19 1551.53,116.36 1551.92,115.54 1552.64,114.92 1553.6,114.42 1554.56,113.76 1555.28,113.06 1556.24,112.77 1557.2,112.23 1558.4,111.61 1559.6,111.2 1560.8,110.45 1561.76,109.96 1562.72,109.34 1563.68,109.05 1564.64,108.63 1565.6,108.1 1566.08,107.06 1566.56,106.23 1566.89,105.41 1567.13,104.58 1567.28,103.55" fill="none" stroke="#00B9E3" stroke-width="0.9" stroke-linecap="round" stroke-linejoin="round"/>
<g fill="#00B9E3"><circle cx="1550.44" cy="139.93" r="0.45"/><circle cx="1550.43" cy="121.53" r="0.45"/><circle cx="1550.53" cy="120.71" r="0.45"/><circle cx="1550.67" cy="119.88" r="0.45"/><circle cx="1550.86" cy="119.26" r="0.45"/><circle cx="1567.37" cy="99.12" r="0.45"/></g>
<line x1="1550.3" x2="1567.7" y1="111.53" y2="111.53" stroke="#222" stroke-width="0.6"/>
<g fill="#00ADFA"><circle cx="1569.98" cy="129.02" r="0.45"/><circle cx="1570.61" cy="124.3" r="0.45"/><circle cx="1571.33" cy="123.68" r="0.45"/><circle cx="1572" cy="121.99" r="0.45"/><circle cx="1572.67" cy="116.57" r="0.45"/><circle cx="1573.34" cy="114.55" r="0.45"/><circle cx="1574.06" cy="114.38" r="0.45"/><circle cx="1574.73" cy="113.22" r="0.45"/><circle cx="1575.41" cy="113.22" r="0.45"/><circle cx="1576.08" cy="113.18" r="0.45"/><circle cx="1576.8" cy="112.85" r="0.45"/><circle cx="1577.47" cy="112.68" r="0.45"/><circle cx="1578.14" cy="110.99" r="0.45"/><circle cx="1578.81" cy="110.7" r="0.45"/><circle cx="1579.53" cy="110.37" r="0.45"/><circle cx="1580.2" cy="110.16" r="0.45"/><circle cx="1580.88" cy="109.75" r="0.45"/><circle cx="1581.55" cy="109.46" r="0.45"/><circle cx="1582.27" cy="109.21" r="0.45"/><circle cx="1582.94" cy="109.05" r="0.45"/><circle cx="1583.61" cy="108.88" r="0.45"/><circle cx="1584.33" cy="108.59" r="0.45"/><circle cx="1585" cy="108.14" r="0.45"/><circle cx="1585.72" cy="107.72" r="0.45"/><circle cx="1586.4" cy="91.02" r="0.45"/></g>
<line x1="1569.64" x2="1587.04" y1="110.9" y2="110.9" stroke="#222" stroke-width="0.6"/>
<g fill="#619CFF"><circle cx="1589.6" cy="121.54" r="0.45"/><circle cx="1590.8" cy="113.28" r="0.45"/><circle cx="1592.05" cy="111.95" r="0.45"/><circle cx="1593.25" cy="111.54" r="0.45"/><circle cx="1594.5" cy="111.46" r="0.45"/><circle cx="1595.7" cy="111.13" r="0.45"/><circle cx="1596.95" cy="111.08" r="0.45"/><circle cx="1598.15" cy="110.46" r="0.45"/><circle cx="1599.35" cy="109.02" r="0.45"/><circle cx="1600.59" cy="107.53" r="0.45"/><circle cx="1601.79" cy="107.16" r="0.45"/><circle cx="1603.04" cy="107.16" r="0.45"/><circle cx="1604.24" cy="105.3" r="0.45"/><circle cx="1605.49" cy="104.26" r="0.45"/></g>
<line x1="1588.98" x2="1606.38" y1="110.7" y2="110.7" stroke="#222" stroke-width="0.6"/>
<polyline points="1608.43,178.1 1613.47,178.1" fill="none" stroke="#AE87FF" stroke-width="0.9" stroke-linecap="round" stroke-linejoin="round"/>
<g fill="#AE87FF"><circle cx="1613.48" cy="113.03" r="0.45"/><circle cx="1613.86" cy="112.2" r="0.45"/><circle cx="1614.34" cy="111.62" r="0.45"/><circle cx="1614.82" cy="111.37" r="0.45"/><circle cx="1615.2" cy="111.33" r="0.45"/><circle cx="1615.54" cy="111.29" r="0.45"/><circle cx="1615.92" cy="111.21" r="0.45"/><circle cx="1616.26" cy="111.08" r="0.45"/><circle cx="1616.74" cy="110.67" r="0.45"/><circle cx="1617.03" cy="110.46" r="0.45"/><circle cx="1617.31" cy="110.26" r="0.45"/><circle cx="1617.6" cy="109.97" r="0.45"/><circle cx="1617.94" cy="109.72" r="0.45"/><circle cx="1618.27" cy="109.02" r="0.45"/><circle cx="1618.56" cy="108.93" r="0.45"/><circle cx="1618.9" cy="108.89" r="0.45"/><circle cx="1619.38" cy="108.73" r="0.45"/><circle cx="1619.71" cy="107.9" r="0.45"/><circle cx="1620" cy="107.49" r="0.45"/><circle cx="1620.34" cy="106.95" r="0.45"/><circle cx="1620.67" cy="106.33" r="0.45"/><circle cx="1621.06" cy="105.92" r="0.45"/><circle cx="1621.44" cy="104.76" r="0.45"/><circle cx="1621.92" cy="104.59" r="0.45"/><circle cx="1622.16" cy="96.41" r="0.45"/><circle cx="1622.4" cy="94.42" r="0.45"/><circle cx="1622.64" cy="94.26" r="0.45"/><circle cx="1622.88" cy="94.13" r="0.45"/><circle cx="1623.17" cy="93.97" r="0.45"/><circle cx="1623.46" cy="93.84" r="0.45"/><circle cx="1623.7" cy="93.6" r="0.45"/><circle cx="1623.94" cy="93.31" r="0.45"/><circle cx="1624.32" cy="92.69" r="0.45"/><circle cx="1624.66" cy="91.78" r="0.45"/><circle cx="1624.99" cy="91.45" r="0.45"/><circle cx="1625.33" cy="89.71" r="0.45"/></g>
<line x1="1608.32" x2="1625.72" y1="110.29" y2="110.29" stroke="#222" stroke-width="0.6"/>
<g fill="#DB72FB"><circle cx="1628.05" cy="178.1" r="0.45"/><circle cx="1628.32" cy="115.84" r="0.45"/><circle cx="1628.8" cy="115.76" r="0.45"/><circle cx="1629.28" cy="115.22" r="0.45"/><circle cx="1629.67" cy="114.81" r="0.45"/><circle cx="1630.15" cy="114.39" r="0.45"/><circle cx="1630.63" cy="114.1" r="0.45"/><circle cx="1631.11" cy="113.56" r="0.45"/><circle cx="1631.49" cy="113.15" r="0.45"/><circle cx="1631.83" cy="112.32" r="0.45"/><circle cx="1632.31" cy="112.04" r="0.45"/><circle cx="1632.79" cy="111.7" r="0.45"/><circle cx="1633.27" cy="111.37" r="0.45"/><circle cx="1633.75" cy="111.08" r="0.45"/><circle cx="1634.13" cy="110.67" r="0.45"/><circle cx="1634.56" cy="110.26" r="0.45"/><circle cx="1634.95" cy="109.84" r="0.45"/><circle cx="1635.43" cy="109.43" r="0.45"/><circle cx="1635.91" cy="109.02" r="0.45"/><circle cx="1636.53" cy="107.86" r="0.45"/><circle cx="1636.87" cy="106.74" r="0.45"/><circle cx="1637.35" cy="106.33" r="0.45"/><circle cx="1637.73" cy="105.71" r="0.45"/><circle cx="1637.97" cy="105.3" r="0.45"/><circle cx="1638.31" cy="103.85" r="0.45"/><circle cx="1638.69" cy="103.44" r="0.45"/><circle cx="1639.07" cy="103.02" r="0.45"/><circle cx="1639.41" cy="102.82" r="0.45"/><circle cx="1639.75" cy="101.58" r="0.45"/><circle cx="1639.99" cy="101.29" r="0.45"/><circle cx="1640.23" cy="98.06" r="0.45"/><circle cx="1640.61" cy="97.98" r="0.45"/><circle cx="1640.95" cy="97.11" r="0.45"/><circle cx="1641.28" cy="96.94" r="0.45"/><circle cx="1641.67" cy="96.2" r="0.45"/><circle cx="1642.05" cy="95.37" r="0.45"/><circle cx="1642.38" cy="95.04" r="0.45"/><circle cx="1642.72" cy="94.96" r="0.45"/><circle cx="1643.01" cy="93.72" r="0.45"/><circle cx="1643.34" cy="93.1" r="0.45"/><circle cx="1643.68" cy="92.89" r="0.45"/><circle cx="1644.06" cy="92.69" r="0.45"/><circle cx="1644.45" cy="92.27" r="0.45"/><circle cx="1644.74" cy="91.86" r="0.45"/></g>
<line x1="1627.66" x2="1645.06" y1="108.93" y2="108.93" stroke="#222" stroke-width="0.6"/>
<polyline points="1647.47,119.97 1647.89,118.17 1648.45,116.48 1649.15,115.04 1649.85,113.84 1650.68,111.91 1651.38,110.71 1652.08,109.63 1653.06,109.39 1653.48,108.19 1654.31,107.46 1654.87,106.14 1655.57,105.18 1656.41,104.22 1657.25,103.37 1658.22,102.89 1659.06,102.29 1659.9,101.45 1660.74,100.37 1661.43,99.41 1661.85,98.44 1662.55,97 1663.11,95.32 1663.53,94.11 1663.95,93.39 1663.95,92.43 1664.03,91.35" fill="none" stroke="#F564E3" stroke-width="0.9" stroke-linecap="round" stroke-linejoin="round"/>
<g fill="#F564E3"><circle cx="1647.05" cy="178.1" r="0.45"/><circle cx="1647.19" cy="135.24" r="0.45"/><circle cx="1647.19" cy="130.55" r="0.45"/><circle cx="1647.19" cy="127.79" r="0.45"/><circle cx="1647.25" cy="125.02" r="0.45"/><circle cx="1647.33" cy="122.5" r="0.45"/><circle cx="1647.39" cy="121.65" r="0.45"/></g>
<line x1="1647" x2="1664.4" y1="105.08" y2="105.08" stroke="#222" stroke-width="0.6"/>
<polyline points="1667.18,111.43 1667.69,110.59 1668.25,109.63 1668.8,108.91 1669.64,108.06 1670.48,107.22 1671.6,106.62 1672.71,106.02 1673.83,105.47 1674.95,105.06 1676.06,104.58 1677.18,103.98 1678.3,103.25 1679.41,102.65 1680.39,102.05 1681.37,101.33 1682.07,100.73 1682.35,99.89 1682.62,98.92 1682.9,97.96 1683.04,97.24" fill="none" stroke="#FF61C3" stroke-width="0.9" stroke-linecap="round" stroke-linejoin="round"/>
<g fill="#FF61C3"><circle cx="1666.39" cy="178.1" r="0.45"/><circle cx="1666.71" cy="139.98" r="0.45"/><circle cx="1666.71" cy="132.53" r="0.45"/><circle cx="1666.71" cy="127.79" r="0.45"/><circle cx="1666.77" cy="120.69" r="0.45"/><circle cx="1666.79" cy="118.05" r="0.45"/><circle cx="1666.93" cy="112.88" r="0.45"/><circle cx="1667.07" cy="112.51" r="0.45"/><circle cx="1683.1" cy="96.76" r="0.45"/><circle cx="1683.18" cy="95.8" r="0.45"/><circle cx="1683.32" cy="94.72" r="0.45"/><circle cx="1683.32" cy="94.11" r="0.45"/><circle cx="1683.41" cy="93.27" r="0.45"/><circle cx="1683.46" cy="90.79" r="0.45"/></g>
<line x1="1666.34" x2="1683.74" y1="104.98" y2="104.98" stroke="#222" stroke-width="0.6"/>
<polyline points="1686.52,106.53 1687.03,105.58 1687.59,104.49 1688.14,103.64 1688.98,102.61 1689.82,101.58 1690.94,100.73 1692.05,99.87 1693.17,99.07 1694.29,98.41 1695.4,97.67 1696.52,96.82 1697.64,95.85 1698.75,94.99 1699.73,94.17 1700.71,93.23 1701.41,92.47 1701.69,91.57 1701.96,90.54 1702.24,89.52 1702.38,88.76" fill="none" stroke="#FF699C" stroke-width="0.9" stroke-linecap="round" stroke-linejoin="round"/>
<g fill="#FF699C"><circle cx="1686.05" cy="135.19" r="0.45"/><circle cx="1686.05" cy="127.73" r="0.45"/><circle cx="1686.05" cy="123" r="0.45"/><circle cx="1686.11" cy="115.89" r="0.45"/><circle cx="1686.13" cy="113.23" r="0.45"/><circle cx="1686.27" cy="108.03" r="0.45"/><circle cx="1686.41" cy="107.64" r="0.45"/><circle cx="1702.44" cy="88.27" r="0.45"/><circle cx="1702.52" cy="87.29" r="0.45"/><circle cx="1702.66" cy="86.17" r="0.45"/><circle cx="1702.66" cy="85.57" r="0.45"/><circle cx="1702.75" cy="84.71" r="0.45"/><circle cx="1702.8" cy="82.22" r="0.45"/></g>
<line x1="1685.68" x2="1703.08" y1="100.38" y2="100.38" stroke="#222" stroke-width="0.6"/>
<text x="1358.85" y="76.6" font-size="3.9" fill="#444" font-weight="bold" textLength="13.5" lengthAdjust="spacingAndGlyphs">READ</text>
<text x="1378.19" y="76.6" font-size="3.9" fill="#444" font-weight="bold" textLength="13.5" lengthAdjust="spacingAndGlyphs">THCA</text>
<text x="1397.53" y="76.6" font-size="3.9" fill="#444" font-weight="bold" textLength="13.5" lengthAdjust="spacingAndGlyphs">TGCT</text>
<text x="1416.87" y="76.6" font-size="3.9" fill="#444" font-weight="bold" textLength="13.5" lengthAdjust="spacingAndGlyphs">KICH</text>
<text x="1436.21" y="76.6" font-size="3.9" fill="#444" font-weight="bold" textLength="13.5" lengthAdjust="spacingAndGlyphs">BRCA</text>
<text x="1455.55" y="76.6" font-size="3.9" fill="#444" font-weight="bold" textLength="13.5" lengthAdjust="spacingAndGlyphs">CHOL</text>
<text x="1474.89" y="76.6" font-size="3.9" fill="#444" font-weight="bold" textLength="13.5" lengthAdjust="spacingAndGlyphs">PAAD</text>
<text x="1494.23" y="76.6" font-size="3.9" fill="#444" font-weight="bold" textLength="13.5" lengthAdjust="spacingAndGlyphs">KIRC</text>
<text x="1513.57" y="76.6" font-size="3.9" fill="#444" font-weight="bold" textLength="13.5" lengthAdjust="spacingAndGlyphs">KIRP</text>
<text x="1532.91" y="76.6" font-size="3.9" fill="#444" font-weight="bold" textLength="13.5" lengthAdjust="spacingAndGlyphs">GBC</text>
<text x="1552.25" y="76.6" font-size="3.9" fill="#444" font-weight="bold" textLength="13.5" lengthAdjust="spacingAndGlyphs">LIHC</text>
<text x="1571.59" y="76.6" font-size="3.9" fill="#444" font-weight="bold" textLength="13.5" lengthAdjust="spacingAndGlyphs">HNSC</text>
<text x="1590.93" y="76.6" font-size="3.9" fill="#444" font-weight="bold" textLength="13.5" lengthAdjust="spacingAndGlyphs">ESCA</text>
<text x="1610.27" y="76.6" font-size="3.9" fill="#444" font-weight="bold" textLength="13.5" lengthAdjust="spacingAndGlyphs">COAD</text>
<text x="1629.61" y="76.6" font-size="3.9" fill="#444" font-weight="bold" textLength="13.5" lengthAdjust="spacingAndGlyphs">STAD</text>
<text x="1648.95" y="76.6" font-size="3.9" fill="#444" font-weight="bold" textLength="13.5" lengthAdjust="spacingAndGlyphs">LUAD</text>
<text x="1668.29" y="76.6" font-size="3.9" fill="#444" font-weight="bold" textLength="13.5" lengthAdjust="spacingAndGlyphs">LUSC</text>
<text x="1687.63" y="76.6" font-size="3.9" fill="#444" font-weight="bold" textLength="13.5" lengthAdjust="spacingAndGlyphs">SKCM</text>
<line x1="1355.3" x2="1356.9" y1="83.9" y2="83.9" stroke="#333" stroke-width="0.5"/>
<text x="1351.19" y="85.8" font-size="5.6" fill="#333">2</text>
<line x1="1355.3" x2="1356.9" y1="115.3" y2="115.3" stroke="#333" stroke-width="0.5"/>
<text x="1351.19" y="117.2" font-size="5.6" fill="#333">0</text>
<line x1="1355.3" x2="1356.9" y1="146.7" y2="146.7" stroke="#333" stroke-width="0.5"/>
<text x="1347.92" y="148.6" font-size="5.6" fill="#333">−2</text>
<line x1="1355.3" x2="1356.9" y1="178.1" y2="178.1" stroke="#333" stroke-width="0.5"/>
<text x="1347.92" y="180" font-size="5.6" fill="#333">−4</text>
<text transform="translate(1340.6,131.5) rotate(-90)" x="-15.5" y="0" font-size="6.8" fill="#333" textLength="31" lengthAdjust="spacingAndGlyphs">TMB(log10)</text>
<rect x="1530.4" y="70.5" width="18.4" height="112.9" fill="none" stroke="#F8665A" stroke-width="0.9"/>
<text x="1468.2" y="47.2" font-size="21.5" fill="#000" stroke="#000" stroke-width="0.3" textLength="126.9" lengthAdjust="spacingAndGlyphs">Mutation rate</text>
<text x="1443.1" y="241.6" font-size="21.5" fill="#000" stroke="#000" stroke-width="0.3" textLength="195.6" lengthAdjust="spacingAndGlyphs">Mutational signature</text>
<rect x="1352.4" y="248.4" width="351.2" height="105" fill="#fff"/>
<path d="M1355.7,249.4 V339 M1359.12,249.4 V339 M1362.54,249.4 V339 M1365.96,249.4 V339 M1369.38,249.4 V339 M1372.8,249.4 V339 M1376.22,249.4 V339 M1379.64,249.4 V339 M1383.06,249.4 V339 M1386.48,249.4 V339 M1389.9,249.4 V339 M1393.32,249.4 V339 M1396.74,249.4 V339 M1400.16,249.4 V339 M1403.58,249.4 V339 M1407,249.4 V339 M1410.42,249.4 V339 M1413.84,249.4 V339 M1417.26,249.4 V339 M1420.68,249.4 V339 M1424.1,249.4 V339 M1427.52,249.4 V339 M1430.94,249.4 V339 M1434.36,249.4 V339 M1437.78,249.4 V339 M1441.2,249.4 V339 M1444.62,249.4 V339 M1448.04,249.4 V339 M1451.46,249.4 V339 M1454.88,249.4 V339 M1458.3,249.4 V339 M1461.72,249.4 V339 M1465.14,249.4 V339 M1468.56,249.4 V339 M1471.98,249.4 V339 M1475.4,249.4 V339 M1478.82,249.4 V339 M1482.24,249.4 V339 M1485.66,249.4 V339 M1489.08,249.4 V339 M1492.5,249.4 V339 M1495.92,249.4 V339 M1499.34,249.4 V339 M1502.76,249.4 V339 M1506.18,249.4 V339 M1509.6,249.4 V339 M1513.02,249.4 V339 M1516.44,249.4 V339 M1519.86,249.4 V339 M1523.28,249.4 V339 M1526.7,249.4 V339 M1530.12,249.4 V339 M1533.54,249.4 V339 M1536.96,249.4 V339 M1540.38,249.4 V339 M1543.8,249.4 V339 M1547.22,249.4 V339 M1550.64,249.4 V339 M1554.06,249.4 V339 M1557.48,249.4 V339 M1560.9,249.4 V339 M1564.32,249.4 V339 M1567.74,249.4 V339 M1571.16,249.4 V339 M1574.58,249.4 V339 M1578,249.4 V339 M1581.42,249.4 V339 M1584.84,249.4 V339 M1588.26,249.4 V339 M1591.68,249.4 V339 M1595.1,249.4 V339 M1598.52,249.4 V339 M1601.94,249.4 V339 M1605.36,249.4 V339 M1608.78,249.4 V339 M1612.2,249.4 V339 M1615.62,249.4 V339 M1619.04,249.4 V339 M1622.46,249.4 V339 M1625.88,249.4 V339 M1629.3,249.4 V339 M1632.72,249.4 V339 M1636.14,249.4 V339 M1639.56,249.4 V339 M1642.98,249.4 V339 M1646.4,249.4 V339 M1649.82,249.4 V339 M1653.24,249.4 V339 M1656.66,249.4 V339 M1660.08,249.4 V339 M1663.5,249.4 V339 M1666.92,249.4 V339 M1670.34,249.4 V339 M1673.76,249.4 V339 M1677.18,249.4 V339 M1680.6,249.4 V339 M1684.02,249.4 V339 M1687.44,249.4 V339 M1690.86,249.4 V339 M1694.28,249.4 V339 M1697.7,249.4 V339 M1701.12,249.4 V339 M1353.4,251.4 H1702.6 M1353.4,254.45 H1702.6 M1353.4,257.5 H1702.6 M1353.4,260.55 H1702.6 M1353.4,263.6 H1702.6 M1353.4,266.65 H1702.6 M1353.4,269.7 H1702.6 M1353.4,272.75 H1702.6 M1353.4,275.8 H1702.6 M1353.4,278.85 H1702.6 M1353.4,281.9 H1702.6 M1353.4,284.95 H1702.6 M1353.4,288 H1702.6 M1353.4,291.05 H1702.6 M1353.4,294.1 H1702.6 M1353.4,297.15 H1702.6 M1353.4,300.2 H1702.6 M1353.4,303.25 H1702.6 M1353.4,306.3 H1702.6 M1353.4,309.35 H1702.6 M1353.4,312.4 H1702.6 M1353.4,315.45 H1702.6 M1353.4,318.5 H1702.6 M1353.4,321.55 H1702.6 M1353.4,324.6 H1702.6 M1353.4,327.65 H1702.6 M1353.4,330.7 H1702.6 M1353.4,333.75 H1702.6 M1353.4,336.8 H1702.6" stroke="#E9E9E9" stroke-width="0.45" fill="none"/>
<rect x="1365.13" y="351.73" width="2.7" height="1.17" fill="#999999"/>
<rect x="1368.41" y="349.39" width="2.7" height="3.51" fill="#999999"/>
<rect x="1371.92" y="351.96" width="2.7" height="0.94" fill="#999999"/>
<rect x="1375.2" y="347.04" width="2.7" height="5.86" fill="#999999"/>
<rect x="1378.72" y="351.73" width="2.7" height="1.17" fill="#999999"/>
<rect x="1382" y="351.73" width="2.7" height="1.17" fill="#999999"/>
<rect x="1388.79" y="351.73" width="2.7" height="1.17" fill="#999999"/>
<rect x="1392.31" y="350.09" width="2.7" height="2.81" fill="#999999"/>
<rect x="1402.38" y="351.73" width="2.7" height="1.17" fill="#999999"/>
<rect x="1405.89" y="338.37" width="2.7" height="14.53" fill="#999999"/>
<rect x="1409.17" y="349.39" width="2.7" height="3.51" fill="#999999"/>
<rect x="1412.69" y="332.75" width="2.7" height="20.15" fill="#999999"/>
<rect x="1415.97" y="347.75" width="2.7" height="5.15" fill="#999999"/>
<rect x="1422.76" y="349.62" width="2.7" height="3.28" fill="#E69F00"/>
<rect x="1426.04" y="348.21" width="2.7" height="4.69" fill="#E69F00"/>
<rect x="1432.84" y="350.56" width="2.7" height="2.34" fill="#E69F00"/>
<rect x="1436.35" y="351.73" width="2.7" height="1.17" fill="#E69F00"/>
<rect x="1443.15" y="350.56" width="2.7" height="2.34" fill="#E69F00"/>
<rect x="1449.94" y="348.92" width="2.7" height="3.98" fill="#E69F00"/>
<rect x="1456.74" y="351.73" width="2.7" height="1.17" fill="#E69F00"/>
<rect x="1460.02" y="310.02" width="2.7" height="42.88" fill="#E69F00"/>
<rect x="1463.53" y="346.57" width="2.7" height="6.33" fill="#E69F00"/>
<rect x="1467.05" y="348.21" width="2.7" height="4.69" fill="#E69F00"/>
<rect x="1470.33" y="312.6" width="2.7" height="40.3" fill="#E69F00"/>
<rect x="1473.84" y="351.73" width="2.7" height="1.17" fill="#E69F00"/>
<rect x="1477.12" y="351.49" width="2.7" height="1.41" fill="#56B4E9"/>
<rect x="1480.4" y="302.53" width="2.7" height="50.37" fill="#56B4E9"/>
<rect x="1483.92" y="347.04" width="2.7" height="5.86" fill="#56B4E9"/>
<rect x="1487.2" y="344.7" width="2.7" height="8.2" fill="#56B4E9"/>
<rect x="1493.99" y="319.63" width="2.7" height="33.27" fill="#56B4E9"/>
<rect x="1497.51" y="349.62" width="2.7" height="3.28" fill="#56B4E9"/>
<rect x="1500.79" y="347.04" width="2.7" height="5.86" fill="#56B4E9"/>
<rect x="1504.3" y="351.49" width="2.7" height="1.41" fill="#56B4E9"/>
<rect x="1507.58" y="309.55" width="2.7" height="43.35" fill="#56B4E9"/>
<rect x="1511.1" y="348.68" width="2.7" height="4.22" fill="#56B4E9"/>
<rect x="1514.38" y="290.58" width="2.7" height="62.32" fill="#56B4E9"/>
<rect x="1517.89" y="337.67" width="2.7" height="15.23" fill="#56B4E9"/>
<rect x="1521.17" y="265.74" width="2.7" height="87.16" fill="#56B4E9"/>
<rect x="1524.69" y="324.08" width="2.7" height="28.82" fill="#56B4E9"/>
<rect x="1527.97" y="350.56" width="2.7" height="2.34" fill="#009E73"/>
<rect x="1534.76" y="351.49" width="2.7" height="1.41" fill="#009E73"/>
<rect x="1538.28" y="349.62" width="2.7" height="3.28" fill="#009E73"/>
<rect x="1545.07" y="351.73" width="2.7" height="1.17" fill="#009E73"/>
<rect x="1548.35" y="351.49" width="2.7" height="1.41" fill="#009E73"/>
<rect x="1551.86" y="351.26" width="2.7" height="1.64" fill="#009E73"/>
<rect x="1555.14" y="347.51" width="2.7" height="5.39" fill="#009E73"/>
<rect x="1558.66" y="350.56" width="2.7" height="2.34" fill="#009E73"/>
<rect x="1561.94" y="351.73" width="2.7" height="1.17" fill="#009E73"/>
<rect x="1568.73" y="350.79" width="2.7" height="2.11" fill="#009E73"/>
<rect x="1575.53" y="349.85" width="2.7" height="3.05" fill="#009E73"/>
<rect x="1582.32" y="350.56" width="2.7" height="2.34" fill="#F0E442"/>
<rect x="1592.63" y="345.87" width="2.7" height="7.03" fill="#F0E442"/>
<rect x="1595.91" y="349.85" width="2.7" height="3.05" fill="#F0E442"/>
<rect x="1602.71" y="351.96" width="2.7" height="0.94" fill="#F0E442"/>
<rect x="1606.22" y="351.49" width="2.7" height="1.41" fill="#F0E442"/>
<rect x="1609.5" y="350.09" width="2.7" height="2.81" fill="#F0E442"/>
<rect x="1613.02" y="348.92" width="2.7" height="3.98" fill="#F0E442"/>
<rect x="1619.81" y="351.03" width="2.7" height="1.87" fill="#F0E442"/>
<rect x="1623.09" y="350.56" width="2.7" height="2.34" fill="#F0E442"/>
<rect x="1626.61" y="349.39" width="2.7" height="3.51" fill="#F0E442"/>
<rect x="1629.89" y="349.62" width="2.7" height="3.28" fill="#F0E442"/>
<rect x="1633.4" y="346.11" width="2.7" height="6.79" fill="#F0E442"/>
<rect x="1646.99" y="347.28" width="2.7" height="5.62" fill="#0072B2"/>
<rect x="1653.79" y="348.92" width="2.7" height="3.98" fill="#0072B2"/>
<rect x="1660.58" y="348.68" width="2.7" height="4.22" fill="#0072B2"/>
<rect x="1674.17" y="350.79" width="2.7" height="2.11" fill="#0072B2"/>
<rect x="1677.45" y="350.56" width="2.7" height="2.34" fill="#0072B2"/>
<rect x="1687.76" y="349.62" width="2.7" height="3.28" fill="#0072B2"/>
<rect x="1352.4" y="248.4" width="351.2" height="105" fill="none" stroke="#333" stroke-width="1.1"/>
<text x="1509.2" y="400.6" font-size="21.5" fill="#000" stroke="#000" stroke-width="0.3" textLength="44" lengthAdjust="spacingAndGlyphs">LOH</text>
<rect x="1359.21" y="405.07" width="341.61" height="78.02" fill="#fff" stroke="#333" stroke-width="0.9"/>
<path d="M1403.26,405.54 V482.62 M1420.13,405.54 V482.62 M1441.45,405.54 V482.62 M1464.41,405.54 V482.62 M1479.41,405.54 V482.62 M1488.78,405.54 V482.62 M1503.31,405.54 V482.62 M1513.38,405.54 V482.62 M1550.64,405.54 V482.62 M1553.21,405.54 V482.62 M1572.66,405.54 V482.62 M1593.28,405.54 V482.62 M1619.99,405.54 V482.62 M1622.8,405.54 V482.62 M1655.14,405.54 V482.62 M1665.45,405.54 V482.62 M1680.44,405.54 V482.62" stroke="#AAAAAA" stroke-width="0.5" fill="none"/>
<line x1="1371.63" x2="1420.13" y1="451.7" y2="451.7" stroke="#222" stroke-width="1.5"/>
<line x1="1428.1" x2="1471.68" y1="451.7" y2="451.7" stroke="#222" stroke-width="1.5"/>
<line x1="1479.41" x2="1488.78" y1="451.7" y2="451.7" stroke="#222" stroke-width="1.5"/>
<line x1="1491.12" x2="1513.38" y1="451.7" y2="451.7" stroke="#222" stroke-width="1.5"/>
<line x1="1518.07" x2="1539.16" y1="451.7" y2="451.7" stroke="#222" stroke-width="1.5"/>
<line x1="1563.29" x2="1593.28" y1="451.7" y2="451.7" stroke="#222" stroke-width="1.5"/>
<line x1="1601.25" x2="1619.99" y1="451.7" y2="451.7" stroke="#222" stroke-width="1.5"/>
<line x1="1638.27" x2="1655.14" y1="451.7" y2="451.7" stroke="#222" stroke-width="1.5"/>
<line x1="1660.06" x2="1688.17" y1="451.7" y2="451.7" stroke="#222" stroke-width="1.5"/>
<line x1="1371.63" x2="1420.13" y1="465.99" y2="465.99" stroke="#FF1A1A" stroke-width="1.5"/>
<line x1="1420.13" x2="1428.57" y1="465.99" y2="465.99" stroke="#222" stroke-width="1.5"/>
<line x1="1428.57" x2="1471.21" y1="465.99" y2="465.99" stroke="#FF1A1A" stroke-width="1.5"/>
<line x1="1471.21" x2="1479.88" y1="465.99" y2="465.99" stroke="#222" stroke-width="1.5"/>
<line x1="1479.88" x2="1488.78" y1="465.99" y2="465.99" stroke="#FF1A1A" stroke-width="1.5"/>
<line x1="1488.78" x2="1491.83" y1="465.99" y2="465.99" stroke="#222" stroke-width="1.5"/>
<line x1="1491.83" x2="1513.38" y1="465.99" y2="465.99" stroke="#FF1A1A" stroke-width="1.5"/>
<line x1="1513.38" x2="1518.77" y1="465.99" y2="465.99" stroke="#222" stroke-width="1.5"/>
<line x1="1518.77" x2="1539.16" y1="465.99" y2="465.99" stroke="#FF1A1A" stroke-width="1.5"/>
<line x1="1539.16" x2="1550.64" y1="465.99" y2="465.99" stroke="#222" stroke-width="1.5"/>
<line x1="1563.29" x2="1593.28" y1="465.99" y2="465.99" stroke="#FF1A1A" stroke-width="1.5"/>
<line x1="1593.28" x2="1601.72" y1="465.99" y2="465.99" stroke="#222" stroke-width="1.5"/>
<line x1="1601.72" x2="1619.99" y1="465.99" y2="465.99" stroke="#FF1A1A" stroke-width="1.5"/>
<line x1="1619.99" x2="1638.73" y1="465.99" y2="465.99" stroke="#222" stroke-width="1.5"/>
<line x1="1638.73" x2="1655.14" y1="465.99" y2="465.99" stroke="#FF1A1A" stroke-width="1.5"/>
<line x1="1655.14" x2="1660.52" y1="465.99" y2="465.99" stroke="#222" stroke-width="1.5"/>
<line x1="1660.52" x2="1688.17" y1="465.99" y2="465.99" stroke="#FF1A1A" stroke-width="1.5"/>
<line x1="1420.13" x2="1428.57" y1="480.52" y2="480.52" stroke="#FF1A1A" stroke-width="1.5"/>
<line x1="1471.21" x2="1479.88" y1="480.52" y2="480.52" stroke="#FF1A1A" stroke-width="1.5"/>
<line x1="1488.78" x2="1491.83" y1="480.52" y2="480.52" stroke="#FF1A1A" stroke-width="1.5"/>
<line x1="1502.84" x2="1503.78" y1="480.52" y2="480.52" stroke="#FF1A1A" stroke-width="1.5"/>
<line x1="1513.38" x2="1518.77" y1="480.52" y2="480.52" stroke="#FF1A1A" stroke-width="1.5"/>
<line x1="1539.16" x2="1553.21" y1="480.52" y2="480.52" stroke="#FF1A1A" stroke-width="1.5"/>
<line x1="1553.21" x2="1563.76" y1="480.52" y2="480.52" stroke="#111" stroke-width="1.5"/>
<line x1="1593.28" x2="1601.72" y1="480.52" y2="480.52" stroke="#FF1A1A" stroke-width="1.5"/>
<line x1="1619.99" x2="1638.73" y1="480.52" y2="480.52" stroke="#FF1A1A" stroke-width="1.5"/>
<line x1="1655.14" x2="1660.52" y1="480.52" y2="480.52" stroke="#FF1A1A" stroke-width="1.5"/>
<line x1="1550.17" x2="1553.68" y1="437.17" y2="437.17" stroke="#222" stroke-width="1.5"/>
<circle cx="1619.99" cy="422.88" r="0.6" fill="#222"/><circle cx="1604.06" cy="408.58" r="0.6" fill="#222"/>
<text transform="translate(1354.06,408.58) rotate(-90)" x="-1.28" y="0" font-size="4.6" fill="#333">5</text>
<line x1="1356.87" x2="1359.21" y1="408.58" y2="408.58" stroke="#333" stroke-width="0.4"/>
<text transform="translate(1354.06,422.88) rotate(-90)" x="-1.28" y="0" font-size="4.6" fill="#333">4</text>
<line x1="1356.87" x2="1359.21" y1="422.88" y2="422.88" stroke="#333" stroke-width="0.4"/>
<text transform="translate(1354.06,437.17) rotate(-90)" x="-1.28" y="0" font-size="4.6" fill="#333">3</text>
<line x1="1356.87" x2="1359.21" y1="437.17" y2="437.17" stroke="#333" stroke-width="0.4"/>
<text transform="translate(1354.06,451.7) rotate(-90)" x="-1.28" y="0" font-size="4.6" fill="#333">2</text>
<line x1="1356.87" x2="1359.21" y1="451.7" y2="451.7" stroke="#333" stroke-width="0.4"/>
<text transform="translate(1354.06,465.99) rotate(-90)" x="-1.28" y="0" font-size="4.6" fill="#333">1</text>
<line x1="1356.87" x2="1359.21" y1="465.99" y2="465.99" stroke="#333" stroke-width="0.4"/>
<text transform="translate(1354.06,480.52) rotate(-90)" x="-1.28" y="0" font-size="4.6" fill="#333">0</text>
<line x1="1356.87" x2="1359.21" y1="480.52" y2="480.52" stroke="#333" stroke-width="0.4"/>
<text transform="translate(1348.43,444.43) rotate(-90)" x="-30" y="0" font-size="5.6" fill="#333" textLength="60" lengthAdjust="spacingAndGlyphs">copy number (cm)</text>
<rect x="1359.21" y="487.54" width="341.61" height="9.61" fill="#fff" stroke="#333" stroke-width="0.9"/>
<rect x="1371.63" y="488.25" width="316.54" height="8.2" fill="#F0D5B5"/>
<rect x="1420.13" y="488.25" width="8.43" height="8.2" fill="#D5E3EF"/>
<rect x="1471.21" y="488.25" width="8.67" height="8.2" fill="#8AAED0"/>
<rect x="1488.78" y="488.25" width="3.05" height="8.2" fill="#8AAED0"/>
<rect x="1513.38" y="488.25" width="5.39" height="8.2" fill="#8AAED0"/>
<rect x="1539.16" y="488.25" width="14.53" height="8.2" fill="#8AAED0"/>
<rect x="1553.68" y="488.25" width="10.07" height="8.2" fill="#D5E3EF"/>
<rect x="1593.28" y="488.25" width="8.43" height="8.2" fill="#8AAED0"/>
<rect x="1619.99" y="488.25" width="18.74" height="8.2" fill="#8AAED0"/>
<rect x="1655.14" y="488.25" width="5.39" height="8.2" fill="#8AAED0"/>
<text x="1345.52" y="495.75" font-size="5.6" fill="#222" textLength="11.45" lengthAdjust="spacingAndGlyphs">bf-em</text>
<text x="1386.46" y="510.27" font-size="6.4" fill="#334" textLength="2.21" lengthAdjust="spacingAndGlyphs">1</text>
<line x1="1387.56" x2="1387.56" y1="497.15" y2="501.84" stroke="#333" stroke-width="0.4"/>
<text x="1410.36" y="510.27" font-size="6.4" fill="#334" textLength="2.21" lengthAdjust="spacingAndGlyphs">2</text>
<line x1="1411.46" x2="1411.46" y1="497.15" y2="501.84" stroke="#333" stroke-width="0.4"/>
<text x="1426.06" y="510.27" font-size="6.4" fill="#334" textLength="2.21" lengthAdjust="spacingAndGlyphs">3</text>
<line x1="1427.16" x2="1427.16" y1="497.15" y2="501.84" stroke="#333" stroke-width="0.4"/>
<text x="1436.83" y="510.27" font-size="6.4" fill="#334" textLength="2.21" lengthAdjust="spacingAndGlyphs">4</text>
<line x1="1437.94" x2="1437.94" y1="497.15" y2="501.84" stroke="#333" stroke-width="0.4"/>
<text x="1445.5" y="510.27" font-size="6.4" fill="#334" textLength="2.21" lengthAdjust="spacingAndGlyphs">5</text>
<line x1="1446.61" x2="1446.61" y1="497.15" y2="501.84" stroke="#333" stroke-width="0.4"/>
<text x="1457.22" y="510.27" font-size="6.4" fill="#334" textLength="2.21" lengthAdjust="spacingAndGlyphs">6</text>
<line x1="1458.32" x2="1458.32" y1="497.15" y2="501.84" stroke="#333" stroke-width="0.4"/>
<text x="1471.28" y="510.27" font-size="6.4" fill="#334" textLength="2.21" lengthAdjust="spacingAndGlyphs">7</text>
<line x1="1472.38" x2="1472.38" y1="497.15" y2="501.84" stroke="#333" stroke-width="0.4"/>
<text x="1482.99" y="510.27" font-size="6.4" fill="#334" textLength="2.21" lengthAdjust="spacingAndGlyphs">8</text>
<line x1="1484.1" x2="1484.1" y1="497.15" y2="501.84" stroke="#333" stroke-width="0.4"/>
<text x="1495.18" y="510.27" font-size="6.4" fill="#334" textLength="2.21" lengthAdjust="spacingAndGlyphs">9</text>
<line x1="1496.28" x2="1496.28" y1="497.15" y2="501.84" stroke="#333" stroke-width="0.4"/>
<text x="1506.49" y="510.27" font-size="6.4" fill="#334" textLength="4.41" lengthAdjust="spacingAndGlyphs">10</text>
<line x1="1508.7" x2="1508.7" y1="497.15" y2="501.84" stroke="#333" stroke-width="0.4"/>
<text x="1522.57" y="510.27" font-size="6.4" fill="#334" textLength="4.12" lengthAdjust="spacingAndGlyphs">11</text>
<line x1="1524.63" x2="1524.63" y1="497.15" y2="501.84" stroke="#333" stroke-width="0.4"/>
<text x="1541.17" y="510.27" font-size="6.4" fill="#334" textLength="4.41" lengthAdjust="spacingAndGlyphs">12</text>
<line x1="1543.37" x2="1543.37" y1="497.15" y2="501.84" stroke="#333" stroke-width="0.4"/>
<text x="1549.84" y="510.27" font-size="6.4" fill="#334" textLength="4.41" lengthAdjust="spacingAndGlyphs">13</text>
<line x1="1552.04" x2="1552.04" y1="497.15" y2="501.84" stroke="#333" stroke-width="0.4"/>
<text x="1566.24" y="510.27" font-size="6.4" fill="#334" textLength="4.41" lengthAdjust="spacingAndGlyphs">15</text>
<line x1="1568.44" x2="1568.44" y1="497.15" y2="501.84" stroke="#333" stroke-width="0.4"/>
<text x="1581.47" y="510.27" font-size="6.4" fill="#334" textLength="4.41" lengthAdjust="spacingAndGlyphs">16</text>
<line x1="1583.67" x2="1583.67" y1="497.15" y2="501.84" stroke="#333" stroke-width="0.4"/>
<text x="1604.19" y="510.27" font-size="6.4" fill="#334" textLength="4.41" lengthAdjust="spacingAndGlyphs">17</text>
<line x1="1606.4" x2="1606.4" y1="497.15" y2="501.84" stroke="#333" stroke-width="0.4"/>
<text x="1618.49" y="510.27" font-size="6.4" fill="#334" textLength="4.41" lengthAdjust="spacingAndGlyphs">18</text>
<line x1="1620.69" x2="1620.69" y1="497.15" y2="501.84" stroke="#333" stroke-width="0.4"/>
<text x="1636.53" y="510.27" font-size="6.4" fill="#334" textLength="4.41" lengthAdjust="spacingAndGlyphs">19</text>
<line x1="1638.73" x2="1638.73" y1="497.15" y2="501.84" stroke="#333" stroke-width="0.4"/>
<text x="1658.08" y="510.27" font-size="6.4" fill="#334" textLength="4.41" lengthAdjust="spacingAndGlyphs">20</text>
<line x1="1660.29" x2="1660.29" y1="497.15" y2="501.84" stroke="#333" stroke-width="0.4"/>
<text x="1672.84" y="510.27" font-size="6.4" fill="#334" textLength="4.41" lengthAdjust="spacingAndGlyphs">22</text>
<line x1="1675.05" x2="1675.05" y1="497.15" y2="501.84" stroke="#333" stroke-width="0.4"/>
<text x="1683.1" y="510.27" font-size="6.4" fill="#334" textLength="2.65" lengthAdjust="spacingAndGlyphs">X</text>
<line x1="1684.42" x2="1684.42" y1="497.15" y2="501.84" stroke="#333" stroke-width="0.4"/>
<text x="1439.2" y="559" font-size="21.5" fill="#000" stroke="#000" stroke-width="0.3" textLength="187.8" lengthAdjust="spacingAndGlyphs">Molecular evolution</text>
<g fill="none" stroke-width="7.9" stroke-linejoin="miter">
<path d="M1460.7,626.6 V657.7 H1665.8" stroke="#B8820A"/>
<path d="M1460.7,626.6 V596.1 H1562.6" stroke="#D95F5F"/>
<path d="M1563,596.1 V616.7 H1664" stroke="#D8C8F6"/>
<path d="M1563,596.1 V571.9 H1664" stroke="#D95CF0"/>
<path d="M1351.7,626.8 H1460.7" stroke="#00D72E"/>
</g>
<g stroke="#000" stroke-width="1.3">
<ellipse cx="1351.7" cy="626.8" rx="6.1" ry="5" fill="#fff"/>
<ellipse cx="1460.7" cy="626.3" rx="5.8" ry="5" fill="#fff"/>
<ellipse cx="1562.3" cy="596.3" rx="5.3" ry="4.8" fill="#fff"/>
<circle cx="1664" cy="571.4" r="5.1" fill="#0000FF"/>
<circle cx="1664" cy="616.7" r="5.1" fill="#0A6E0A"/>
<circle cx="1665.8" cy="657.7" r="5.1" fill="#FFA500"/>
</g>
<text x="1529.9" y="587.5" font-size="21.4" fill="#0000FF" stroke="#0000FF" stroke-width="0.3" textLength="19.9" lengthAdjust="spacingAndGlyphs">68</text>
<text x="1674.1" y="574.5" font-size="21.4" fill="#0000FF" stroke="#0000FF" stroke-width="0.3" textLength="66.3" lengthAdjust="spacingAndGlyphs">LG-BilIN</text>
<text x="1675.6" y="619.3" font-size="21.4" fill="#0A7A0A" stroke="#0A7A0A" stroke-width="0.3" textLength="69.1" lengthAdjust="spacingAndGlyphs">HG-BilIN</text>
<text x="1676.1" y="664.1" font-size="21.4" fill="#FF0000" stroke="#FF0000" stroke-width="0.3" textLength="37.1" lengthAdjust="spacingAndGlyphs">GBC</text>
<text x="-1.5" y="22.9" font-size="43.4" fill="#000" font-weight="bold">a</text>
<text x="-1.2" y="688.8" font-size="43.4" fill="#000" font-weight="bold">b</text>
<text x="10.2" y="1364.2" font-size="43.4" fill="#000" font-weight="bold">c</text>
</g>
<g id="panel-b">
<g shape-rendering="crispEdges">
<rect x="293.2" y="741.3" width="76" height="40.5" fill="#CCCCCC"/>
<rect x="293.2" y="781.8" width="76" height="493.8" fill="#F4F4F4"/>
<rect x="377.8" y="741.3" width="76" height="40.5" fill="#CCCCCC"/>
<rect x="377.8" y="781.8" width="76" height="493.8" fill="#F4F4F4"/>
<rect x="462.4" y="741.3" width="76" height="40.5" fill="#CCCCCC"/>
<rect x="462.4" y="781.8" width="76" height="493.8" fill="#F4F4F4"/>
<rect x="547" y="741.3" width="76" height="40.5" fill="#CCCCCC"/>
<rect x="547" y="781.8" width="76" height="493.8" fill="#F4F4F4"/>
<rect x="631.6" y="741.3" width="76" height="40.5" fill="#CCCCCC"/>
<rect x="631.6" y="781.8" width="76" height="493.8" fill="#F4F4F4"/>
<rect x="716.2" y="741.3" width="76" height="40.5" fill="#CCCCCC"/>
<rect x="716.2" y="781.8" width="76" height="493.8" fill="#F4F4F4"/>
<rect x="800.8" y="741.3" width="76" height="40.5" fill="#CCCCCC"/>
<rect x="800.8" y="781.8" width="76" height="493.8" fill="#F4F4F4"/>
<rect x="885.4" y="741.3" width="76" height="40.5" fill="#CCCCCC"/>
<rect x="885.4" y="781.8" width="76" height="493.8" fill="#F4F4F4"/>
<rect x="970" y="741.3" width="76" height="40.5" fill="#CCCCCC"/>
<rect x="970" y="781.8" width="76" height="493.8" fill="#F4F4F4"/>
<rect x="1054.6" y="741.3" width="76" height="40.5" fill="#CCCCCC"/>
<rect x="1054.6" y="781.8" width="76" height="493.8" fill="#F4F4F4"/>
<rect x="1139.2" y="741.3" width="76" height="40.5" fill="#CCCCCC"/>
<rect x="1139.2" y="781.8" width="76" height="493.8" fill="#F4F4F4"/>
<rect x="1223.8" y="741.3" width="76" height="40.5" fill="#CCCCCC"/>
<rect x="1223.8" y="781.8" width="76" height="493.8" fill="#F4F4F4"/>
<rect x="1308.4" y="741.3" width="76" height="40.5" fill="#CCCCCC"/>
<rect x="1308.4" y="781.8" width="76" height="493.8" fill="#F4F4F4"/>
<rect x="1393" y="741.3" width="76" height="40.5" fill="#CCCCCC"/>
<rect x="1393" y="781.8" width="76" height="493.8" fill="#F4F4F4"/>
<rect x="1477.6" y="741.3" width="76" height="40.5" fill="#CCCCCC"/>
<rect x="1477.6" y="781.8" width="76" height="493.8" fill="#F4F4F4"/>
<rect x="1562.2" y="741.3" width="76" height="40.5" fill="#CCCCCC"/>
<rect x="1562.2" y="781.8" width="76" height="493.8" fill="#F4F4F4"/>
<rect x="1646.8" y="741.3" width="76" height="40.5" fill="#CCCCCC"/>
<rect x="1646.8" y="781.8" width="76" height="493.8" fill="#F4F4F4"/>
</g>
<g fill="#F8766D"><circle cx="294.9" cy="1252.4" r="1.9"/><circle cx="298.2" cy="1252.4" r="1.9"/><circle cx="301.5" cy="1252.4" r="1.9"/><circle cx="304.8" cy="1252.4" r="1.9"/><circle cx="308.1" cy="1252.4" r="1.9"/><circle cx="311.4" cy="1252.4" r="1.9"/><circle cx="314.7" cy="1252.4" r="1.9"/><circle cx="318" cy="1252.4" r="1.9"/><circle cx="321.3" cy="1252.4" r="1.9"/><circle cx="324.6" cy="1252.4" r="1.9"/><circle cx="327.9" cy="1252.4" r="1.9"/><circle cx="331.2" cy="1252.4" r="1.9"/><circle cx="331.92" cy="920.64" r="1.9"/><circle cx="335.49" cy="919.38" r="1.9"/><circle cx="338.84" cy="918.75" r="1.9"/><circle cx="342.19" cy="917.92" r="1.9"/><circle cx="345.55" cy="917.08" r="1.9"/><circle cx="349.32" cy="916.45" r="1.9"/><circle cx="352.68" cy="913.09" r="1.9"/><circle cx="356.03" cy="908.48" r="1.9"/><circle cx="359.59" cy="907.02" r="1.9"/><circle cx="362.74" cy="894.65" r="1.9"/><circle cx="366.09" cy="874.94" r="1.9"/></g>
<line x1="293.2" x2="369.2" y1="1086.8" y2="1086.8" stroke="#000" stroke-width="3.3"/>
<polyline points="379.72,1035.24 383.91,1035.24" fill="none" stroke="#E7851E" stroke-width="3.8" stroke-linecap="round" stroke-linejoin="round"/>
<polyline points="382.65,1021.22 391.04,1021.22" fill="none" stroke="#E7851E" stroke-width="3.8" stroke-linecap="round" stroke-linejoin="round"/>
<polyline points="390.41,1011.28 397.53,1011.28" fill="none" stroke="#E7851E" stroke-width="3.8" stroke-linecap="round" stroke-linejoin="round"/>
<polyline points="396.9,1003.56 407.39,1003.56" fill="none" stroke="#E7851E" stroke-width="3.8" stroke-linecap="round" stroke-linejoin="round"/>
<polyline points="407.39,997.26 416.82,997.26" fill="none" stroke="#E7851E" stroke-width="3.8" stroke-linecap="round" stroke-linejoin="round"/>
<polyline points="416.4,991.93 425.62,991.93" fill="none" stroke="#E7851E" stroke-width="3.8" stroke-linecap="round" stroke-linejoin="round"/>
<polyline points="425.2,987.31 431.91,987.31" fill="none" stroke="#E7851E" stroke-width="3.8" stroke-linecap="round" stroke-linejoin="round"/>
<polyline points="430.86,983.24 438.62,983.24" fill="none" stroke="#E7851E" stroke-width="3.8" stroke-linecap="round" stroke-linejoin="round"/>
<polyline points="437.78,979.6 440.92,979.6" fill="none" stroke="#E7851E" stroke-width="3.8" stroke-linecap="round" stroke-linejoin="round"/>
<polyline points="440.3,976.31 443.44,976.31" fill="none" stroke="#E7851E" stroke-width="3.8" stroke-linecap="round" stroke-linejoin="round"/>
<polyline points="444.07,974.72 446.16,972 447.63,969.48 448.89,966.34 449.73,962.15 450.78,956.9 451.41,952.71" fill="none" stroke="#E7851E" stroke-width="3.8" stroke-linecap="round" stroke-linejoin="round"/>
<g fill="#E7851E"><circle cx="378.6" cy="1252.4" r="1.9"/><circle cx="378.88" cy="1059.2" r="1.9"/><circle cx="452.03" cy="945.38" r="1.9"/><circle cx="452.45" cy="926.72" r="1.9"/></g>
<line x1="377.8" x2="453.8" y1="997.2" y2="997.2" stroke="#000" stroke-width="3.3"/>
<polyline points="465.24,1011.28 468.17,1011.28" fill="none" stroke="#D09400" stroke-width="3.8" stroke-linecap="round" stroke-linejoin="round"/>
<polyline points="468.59,1003.56 476.14,1003.56" fill="none" stroke="#D09400" stroke-width="3.8" stroke-linecap="round" stroke-linejoin="round"/>
<polyline points="476.56,997.26 479.7,997.26" fill="none" stroke="#D09400" stroke-width="3.8" stroke-linecap="round" stroke-linejoin="round"/>
<polyline points="480.12,991.93 484.94,991.93" fill="none" stroke="#D09400" stroke-width="3.8" stroke-linecap="round" stroke-linejoin="round"/>
<polyline points="485.78,987.31 490.6,987.31" fill="none" stroke="#D09400" stroke-width="3.8" stroke-linecap="round" stroke-linejoin="round"/>
<polyline points="491.44,983.24 495.01,983.24" fill="none" stroke="#D09400" stroke-width="3.8" stroke-linecap="round" stroke-linejoin="round"/>
<polyline points="496.47,979.6 497.94,979.6" fill="none" stroke="#D09400" stroke-width="3.8" stroke-linecap="round" stroke-linejoin="round"/>
<polyline points="498.99,976.31 501.08,976.31" fill="none" stroke="#D09400" stroke-width="3.8" stroke-linecap="round" stroke-linejoin="round"/>
<polyline points="502.13,973.3 509.26,973.3" fill="none" stroke="#D09400" stroke-width="3.8" stroke-linecap="round" stroke-linejoin="round"/>
<polyline points="510.52,970.53 512.19,970.53" fill="none" stroke="#D09400" stroke-width="3.8" stroke-linecap="round" stroke-linejoin="round"/>
<polyline points="513.66,967.97 515.34,967.97" fill="none" stroke="#D09400" stroke-width="3.8" stroke-linecap="round" stroke-linejoin="round"/>
<polyline points="516.81,965.58 518.27,965.58" fill="none" stroke="#D09400" stroke-width="3.8" stroke-linecap="round" stroke-linejoin="round"/>
<polyline points="519.95,963.35 521.21,963.35" fill="none" stroke="#D09400" stroke-width="3.8" stroke-linecap="round" stroke-linejoin="round"/>
<polyline points="522.88,961.26 524.35,961.26" fill="none" stroke="#D09400" stroke-width="3.8" stroke-linecap="round" stroke-linejoin="round"/>
<polyline points="525.82,959.28 526.66,959.28" fill="none" stroke="#D09400" stroke-width="3.8" stroke-linecap="round" stroke-linejoin="round"/>
<g fill="#D09400"><circle cx="463" cy="1252.4" r="1.9"/><circle cx="463.98" cy="1021.22" r="1.9"/><circle cx="527.5" cy="951.04" r="1.9"/><circle cx="528.54" cy="950.2" r="1.9"/><circle cx="529.8" cy="947.89" r="1.9"/><circle cx="530.85" cy="946.42" r="1.9"/><circle cx="532.53" cy="942.65" r="1.9"/><circle cx="533.58" cy="941.39" r="1.9"/><circle cx="534.83" cy="936.99" r="1.9"/><circle cx="536.51" cy="931.54" r="1.9"/></g>
<line x1="462.4" x2="538.4" y1="976.2" y2="976.2" stroke="#000" stroke-width="3.3"/>
<g fill="#B2A100"><circle cx="548.67" cy="1011.41" r="1.9"/><circle cx="552.23" cy="979.75" r="1.9"/><circle cx="555.79" cy="976.61" r="1.9"/><circle cx="559.36" cy="976.19" r="1.9"/><circle cx="563.55" cy="973.67" r="1.9"/><circle cx="567.32" cy="973.25" r="1.9"/><circle cx="571.1" cy="970.53" r="1.9"/><circle cx="574.66" cy="965.92" r="1.9"/><circle cx="578.43" cy="965.5" r="1.9"/><circle cx="582.42" cy="964.24" r="1.9"/><circle cx="585.98" cy="963.19" r="1.9"/><circle cx="589.75" cy="962.15" r="1.9"/><circle cx="593.53" cy="960.68" r="1.9"/><circle cx="597.3" cy="959.42" r="1.9"/><circle cx="601.07" cy="959.21" r="1.9"/><circle cx="604.85" cy="955.65" r="1.9"/><circle cx="608.62" cy="955.44" r="1.9"/><circle cx="612.39" cy="953.97" r="1.9"/><circle cx="616.16" cy="952.71" r="1.9"/><circle cx="619.94" cy="952.29" r="1.9"/></g>
<line x1="547" x2="623" y1="963.2" y2="963.2" stroke="#000" stroke-width="3.3"/>
<polyline points="632,1252.4 647.5,1252.4" fill="none" stroke="#89AC00" stroke-width="3.8" stroke-linecap="round" stroke-linejoin="round"/>
<polyline points="648.96,984.46 649.8,979.85 650.64,976.08 651.48,971.89 654.2,968.74 657.35,965.6 661.54,960.36 665.73,956.16 669.92,951.97 673.07,946.73 676.21,942.54 679.36,938.35 683.55,934.16 686.69,929.96 689.84,925.77 692.98,921.16 695.5,916.34 697.17,911.1 698.64,904.81 700.32,898.52 701.79,892.23 703.04,886.99 703.88,883.85" fill="none" stroke="#89AC00" stroke-width="3.8" stroke-linecap="round" stroke-linejoin="round"/>
<g fill="#89AC00"><circle cx="646.45" cy="1035.4" r="1.9"/><circle cx="646.87" cy="1011.5" r="1.9"/><circle cx="647.28" cy="1003.54" r="1.9"/><circle cx="647.7" cy="997.25" r="1.9"/><circle cx="648.12" cy="992.01" r="1.9"/><circle cx="648.54" cy="987.19" r="1.9"/><circle cx="704.51" cy="875.46" r="1.9"/><circle cx="705.14" cy="866.24" r="1.9"/><circle cx="705.56" cy="857.02" r="1.9"/><circle cx="705.77" cy="836.47" r="1.9"/><circle cx="705.98" cy="819.08" r="1.9"/></g>
<line x1="631.6" x2="707.6" y1="953.6" y2="953.6" stroke="#000" stroke-width="3.3"/>
<g fill="#45B500"><circle cx="717.93" cy="967.9" r="1.9"/><circle cx="721.91" cy="963.29" r="1.9"/><circle cx="725.89" cy="961.41" r="1.9"/><circle cx="729.87" cy="957.42" r="1.9"/><circle cx="733.86" cy="954.07" r="1.9"/><circle cx="737.84" cy="950.71" r="1.9"/><circle cx="741.82" cy="947.78" r="1.9"/><circle cx="745.8" cy="946.1" r="1.9"/><circle cx="749.79" cy="944.85" r="1.9"/><circle cx="753.77" cy="943.8" r="1.9"/><circle cx="757.75" cy="939.19" r="1.9"/><circle cx="761.74" cy="936.46" r="1.9"/><circle cx="765.51" cy="936.25" r="1.9"/><circle cx="769.49" cy="933.32" r="1.9"/><circle cx="773.47" cy="932.48" r="1.9"/><circle cx="777.25" cy="932.48" r="1.9"/><circle cx="781.23" cy="931.64" r="1.9"/><circle cx="785.21" cy="930.59" r="1.9"/><circle cx="788.99" cy="926.82" r="1.9"/></g>
<line x1="716.2" x2="792.2" y1="943.6" y2="943.6" stroke="#000" stroke-width="3.3"/>
<g fill="#00BC51"><circle cx="803.7" cy="1252.4" r="1.9"/><circle cx="810.16" cy="987.4" r="1.9"/><circle cx="816.45" cy="963.29" r="1.9"/><circle cx="822.73" cy="957.42" r="1.9"/><circle cx="828.81" cy="949.46" r="1.9"/><circle cx="835.1" cy="940.02" r="1.9"/><circle cx="841.39" cy="939.4" r="1.9"/><circle cx="847.47" cy="936.46" r="1.9"/><circle cx="853.76" cy="934.36" r="1.9"/><circle cx="859.84" cy="934.36" r="1.9"/><circle cx="866.13" cy="927.45" r="1.9"/><circle cx="872.41" cy="922.63" r="1.9"/></g>
<line x1="800.8" x2="876.8" y1="939" y2="939" stroke="#000" stroke-width="3.3"/>
<polyline points="887.51,974.4 888.55,971.89 890.02,967.69 891.7,962.45 893.17,956.16 894.63,950.92 896.31,946.73 899.45,944.22 903.65,941.7 908.89,939.61 914.13,938.35 918.32,936.67 921.46,934.16 924.61,929.96 928.8,927.45 934.04,926.19 939.28,924.09 943.47,921.58 947.67,918.43 951.86,915.29 955,912.15 957.52,907.95 959.2,903.76" fill="none" stroke="#00C087" stroke-width="3.8" stroke-linecap="round" stroke-linejoin="round"/>
<g fill="#00C087"><circle cx="885.6" cy="1252.4" r="1.9"/><circle cx="886.46" cy="987.61" r="1.9"/><circle cx="886.67" cy="983.42" r="1.9"/><circle cx="886.88" cy="979.64" r="1.9"/><circle cx="959.82" cy="898.1" r="1.9"/><circle cx="960.03" cy="846.54" r="1.9"/></g>
<line x1="885.4" x2="961.4" y1="931.4" y2="931.4" stroke="#000" stroke-width="3.3"/>
<polyline points="971.87,979.22 972.92,976.08 973.97,970.84 975.43,965.6 977.53,958.26 979.63,953.02 981.72,948.83 984.87,946.73 988.01,940.44 991.15,938.35 995.35,936.25 998.49,931.01 1002.68,928.29 1007.92,925.77 1012.12,922.63 1016.31,919.9 1021.55,916.97 1026.79,914.87 1032.03,913.19 1036.22,910.05 1039.37,906.9 1042.51,904.81 1044.61,903.76" fill="none" stroke="#00C0B2" stroke-width="3.8" stroke-linecap="round" stroke-linejoin="round"/>
<g fill="#00C0B2"><circle cx="970.19" cy="992.43" r="1.9"/><circle cx="970.61" cy="987.61" r="1.9"/><circle cx="971.03" cy="983.42" r="1.9"/><circle cx="1045.03" cy="897.47" r="1.9"/></g>
<line x1="970" x2="1046" y1="925.8" y2="925.8" stroke="#000" stroke-width="3.3"/>
<g fill="#00BCD6"><circle cx="1058.02" cy="945.06" r="1.9"/><circle cx="1064.73" cy="942.75" r="1.9"/><circle cx="1071.65" cy="934.36" r="1.9"/><circle cx="1078.35" cy="922.63" r="1.9"/><circle cx="1085.27" cy="919.27" r="1.9"/><circle cx="1091.98" cy="916.55" r="1.9"/><circle cx="1098.69" cy="913.82" r="1.9"/><circle cx="1105.61" cy="911.52" r="1.9"/><circle cx="1112.31" cy="896.63" r="1.9"/><circle cx="1119.02" cy="894.54" r="1.9"/><circle cx="1125.94" cy="891.39" r="1.9"/></g>
<line x1="1054.6" x2="1130.6" y1="915.9" y2="915.9" stroke="#000" stroke-width="3.3"/>
<polyline points="1142.71,947.78 1143.55,943.59 1144.59,939.4 1146.27,935.2 1149.42,932.06 1153.61,929.54 1157.8,926.19 1160.94,922.63 1165.14,921.16 1169.33,918.43 1174.57,915.29 1179.81,913.19 1185.05,909.42 1189.24,906.9 1193.43,903.76 1197.63,902.29 1201.82,900.2 1206.01,897.47 1208.11,892.23 1210.2,888.04 1211.67,883.85 1212.72,879.65 1213.35,874.41" fill="none" stroke="#00B3F2" stroke-width="3.8" stroke-linecap="round" stroke-linejoin="round"/>
<g fill="#00B3F2"><circle cx="1139.8" cy="1058.9" r="1.9"/><circle cx="1139.77" cy="965.6" r="1.9"/><circle cx="1140.19" cy="961.41" r="1.9"/><circle cx="1140.82" cy="957.21" r="1.9"/><circle cx="1141.66" cy="954.07" r="1.9"/><circle cx="1213.77" cy="851.99" r="1.9"/></g>
<line x1="1139.2" x2="1215.2" y1="914.9" y2="914.9" stroke="#000" stroke-width="3.3"/>
<g fill="#28A3FF"><circle cx="1225.3" cy="1003.54" r="1.9"/><circle cx="1228.02" cy="979.64" r="1.9"/><circle cx="1231.17" cy="976.5" r="1.9"/><circle cx="1234.1" cy="967.9" r="1.9"/><circle cx="1237.04" cy="940.44" r="1.9"/><circle cx="1239.97" cy="930.17" r="1.9"/><circle cx="1243.11" cy="929.33" r="1.9"/><circle cx="1246.05" cy="923.46" r="1.9"/><circle cx="1248.98" cy="923.46" r="1.9"/><circle cx="1251.92" cy="923.25" r="1.9"/><circle cx="1255.06" cy="921.58" r="1.9"/><circle cx="1258" cy="920.74" r="1.9"/><circle cx="1260.93" cy="912.15" r="1.9"/><circle cx="1263.87" cy="910.68" r="1.9"/><circle cx="1267.01" cy="909" r="1.9"/><circle cx="1269.94" cy="907.95" r="1.9"/><circle cx="1272.88" cy="905.86" r="1.9"/><circle cx="1275.81" cy="904.39" r="1.9"/><circle cx="1278.96" cy="903.13" r="1.9"/><circle cx="1281.89" cy="902.29" r="1.9"/><circle cx="1284.83" cy="901.45" r="1.9"/><circle cx="1287.97" cy="899.99" r="1.9"/><circle cx="1290.91" cy="897.68" r="1.9"/><circle cx="1294.05" cy="895.59" r="1.9"/><circle cx="1296.99" cy="810.9" r="1.9"/></g>
<line x1="1223.8" x2="1299.8" y1="911.7" y2="911.7" stroke="#000" stroke-width="3.3"/>
<g fill="#9C8DFF"><circle cx="1311.13" cy="965.66" r="1.9"/><circle cx="1316.37" cy="923.74" r="1.9"/><circle cx="1321.82" cy="917.03" r="1.9"/><circle cx="1327.06" cy="914.93" r="1.9"/><circle cx="1332.51" cy="914.51" r="1.9"/><circle cx="1337.75" cy="912.84" r="1.9"/><circle cx="1343.2" cy="912.63" r="1.9"/><circle cx="1348.44" cy="909.48" r="1.9"/><circle cx="1353.68" cy="902.15" r="1.9"/><circle cx="1359.13" cy="894.6" r="1.9"/><circle cx="1364.37" cy="892.71" r="1.9"/><circle cx="1369.82" cy="892.71" r="1.9"/><circle cx="1375.06" cy="883.28" r="1.9"/><circle cx="1380.51" cy="878.04" r="1.9"/></g>
<line x1="1308.4" x2="1384.4" y1="910.7" y2="910.7" stroke="#000" stroke-width="3.3"/>
<polyline points="1393.5,1252.4 1415.5,1252.4" fill="none" stroke="#D277FF" stroke-width="3.8" stroke-linecap="round" stroke-linejoin="round"/>
<g fill="#D277FF"><circle cx="1415.52" cy="922.48" r="1.9"/><circle cx="1417.19" cy="918.29" r="1.9"/><circle cx="1419.29" cy="915.35" r="1.9"/><circle cx="1421.39" cy="914.09" r="1.9"/><circle cx="1423.06" cy="913.88" r="1.9"/><circle cx="1424.53" cy="913.67" r="1.9"/><circle cx="1426.21" cy="913.25" r="1.9"/><circle cx="1427.67" cy="912.63" r="1.9"/><circle cx="1429.77" cy="910.53" r="1.9"/><circle cx="1431.03" cy="909.48" r="1.9"/><circle cx="1432.29" cy="908.43" r="1.9"/><circle cx="1433.54" cy="906.97" r="1.9"/><circle cx="1435.01" cy="905.71" r="1.9"/><circle cx="1436.48" cy="902.15" r="1.9"/><circle cx="1437.74" cy="901.73" r="1.9"/><circle cx="1439.2" cy="901.52" r="1.9"/><circle cx="1441.3" cy="900.68" r="1.9"/><circle cx="1442.77" cy="896.49" r="1.9"/><circle cx="1444.02" cy="894.39" r="1.9"/><circle cx="1445.49" cy="891.66" r="1.9"/><circle cx="1446.96" cy="888.52" r="1.9"/><circle cx="1448.64" cy="886.42" r="1.9"/><circle cx="1450.31" cy="880.55" r="1.9"/><circle cx="1452.41" cy="879.72" r="1.9"/><circle cx="1453.46" cy="838.21" r="1.9"/><circle cx="1454.51" cy="828.15" r="1.9"/><circle cx="1455.55" cy="827.31" r="1.9"/><circle cx="1456.6" cy="826.68" r="1.9"/><circle cx="1457.86" cy="825.84" r="1.9"/><circle cx="1459.12" cy="825.22" r="1.9"/><circle cx="1460.16" cy="823.96" r="1.9"/><circle cx="1461.21" cy="822.49" r="1.9"/><circle cx="1462.89" cy="819.35" r="1.9"/><circle cx="1464.36" cy="814.73" r="1.9"/><circle cx="1465.82" cy="813.06" r="1.9"/><circle cx="1467.29" cy="804.25" r="1.9"/></g>
<line x1="1393" x2="1469" y1="908.6" y2="908.6" stroke="#000" stroke-width="3.3"/>
<g fill="#F166E8"><circle cx="1479.3" cy="1252.4" r="1.9"/><circle cx="1480.5" cy="936.73" r="1.9"/><circle cx="1482.59" cy="936.31" r="1.9"/><circle cx="1484.69" cy="933.59" r="1.9"/><circle cx="1486.37" cy="931.49" r="1.9"/><circle cx="1488.46" cy="929.4" r="1.9"/><circle cx="1490.56" cy="927.93" r="1.9"/><circle cx="1492.66" cy="925.2" r="1.9"/><circle cx="1494.33" cy="923.11" r="1.9"/><circle cx="1495.8" cy="918.91" r="1.9"/><circle cx="1497.9" cy="917.45" r="1.9"/><circle cx="1499.99" cy="915.77" r="1.9"/><circle cx="1502.09" cy="914.09" r="1.9"/><circle cx="1504.18" cy="912.63" r="1.9"/><circle cx="1505.86" cy="910.53" r="1.9"/><circle cx="1507.75" cy="908.43" r="1.9"/><circle cx="1509.42" cy="906.34" r="1.9"/><circle cx="1511.52" cy="904.24" r="1.9"/><circle cx="1513.62" cy="902.15" r="1.9"/><circle cx="1516.34" cy="896.28" r="1.9"/><circle cx="1517.81" cy="890.62" r="1.9"/><circle cx="1519.91" cy="888.52" r="1.9"/><circle cx="1521.58" cy="885.38" r="1.9"/><circle cx="1522.63" cy="883.28" r="1.9"/><circle cx="1524.1" cy="875.94" r="1.9"/><circle cx="1525.78" cy="873.85" r="1.9"/><circle cx="1527.45" cy="871.75" r="1.9"/><circle cx="1528.92" cy="870.7" r="1.9"/><circle cx="1530.39" cy="864.41" r="1.9"/><circle cx="1531.43" cy="862.95" r="1.9"/><circle cx="1532.48" cy="846.6" r="1.9"/><circle cx="1534.16" cy="846.18" r="1.9"/><circle cx="1535.63" cy="841.78" r="1.9"/><circle cx="1537.09" cy="840.94" r="1.9"/><circle cx="1538.77" cy="837.16" r="1.9"/><circle cx="1540.45" cy="832.97" r="1.9"/><circle cx="1541.92" cy="831.29" r="1.9"/><circle cx="1543.38" cy="830.88" r="1.9"/><circle cx="1544.64" cy="824.59" r="1.9"/><circle cx="1546.11" cy="821.44" r="1.9"/><circle cx="1547.58" cy="820.39" r="1.9"/><circle cx="1549.25" cy="819.35" r="1.9"/><circle cx="1550.93" cy="817.25" r="1.9"/><circle cx="1552.19" cy="815.15" r="1.9"/></g>
<line x1="1477.6" x2="1553.6" y1="901.7" y2="901.7" stroke="#000" stroke-width="3.3"/>
<polyline points="1564.27,957.68 1566.1,948.54 1568.54,940 1571.59,932.68 1574.63,926.59 1578.29,916.83 1581.34,910.73 1584.39,905.24 1588.66,904.02 1590.49,897.93 1594.15,894.27 1596.59,887.56 1599.63,882.68 1603.29,877.8 1606.95,873.54 1611.22,871.1 1614.88,868.05 1618.54,863.78 1622.2,858.29 1625.24,853.41 1627.07,848.54 1630.12,841.22 1632.56,832.68 1634.39,826.59 1636.22,822.93 1636.22,818.05 1636.59,812.56" fill="none" stroke="#FF61C7" stroke-width="3.8" stroke-linecap="round" stroke-linejoin="round"/>
<g fill="#FF61C7"><circle cx="1562.4" cy="1252.4" r="1.9"/><circle cx="1563.05" cy="1035.12" r="1.9"/><circle cx="1563.05" cy="1011.34" r="1.9"/><circle cx="1563.05" cy="997.32" r="1.9"/><circle cx="1563.29" cy="983.29" r="1.9"/><circle cx="1563.66" cy="970.49" r="1.9"/><circle cx="1563.9" cy="966.22" r="1.9"/></g>
<line x1="1562.2" x2="1638.2" y1="882.2" y2="882.2" stroke="#000" stroke-width="3.3"/>
<polyline points="1650.49,914.39 1652.68,910.12 1655.12,905.24 1657.56,901.59 1661.22,897.32 1664.88,893.05 1669.76,890 1674.63,886.95 1679.51,884.15 1684.39,882.07 1689.27,879.63 1694.15,876.59 1699.02,872.93 1703.9,869.88 1708.17,866.83 1712.44,863.17 1715.49,860.12 1716.71,855.85 1717.93,850.98 1719.15,846.1 1719.76,842.44" fill="none" stroke="#FF689E" stroke-width="3.8" stroke-linecap="round" stroke-linejoin="round"/>
<g fill="#FF689E"><circle cx="1647" cy="1252.4" r="1.9"/><circle cx="1648.41" cy="1059.15" r="1.9"/><circle cx="1648.41" cy="1021.34" r="1.9"/><circle cx="1648.41" cy="997.32" r="1.9"/><circle cx="1648.66" cy="961.34" r="1.9"/><circle cx="1648.78" cy="947.93" r="1.9"/><circle cx="1649.39" cy="921.71" r="1.9"/><circle cx="1650" cy="919.88" r="1.9"/><circle cx="1720" cy="840" r="1.9"/><circle cx="1720.37" cy="835.12" r="1.9"/><circle cx="1720.98" cy="829.63" r="1.9"/><circle cx="1720.98" cy="826.59" r="1.9"/><circle cx="1721.34" cy="822.32" r="1.9"/><circle cx="1721.59" cy="809.76" r="1.9"/></g>
<line x1="1646.8" x2="1722.8" y1="881.7" y2="881.7" stroke="#000" stroke-width="3.3"/>
<g fill="#fff" shape-rendering="crispEdges">
<rect x="369.2" y="781.8" width="8.6" height="493.8"/>
<rect x="453.8" y="781.8" width="8.6" height="493.8"/>
<rect x="538.4" y="781.8" width="8.6" height="493.8"/>
<rect x="623" y="781.8" width="8.6" height="493.8"/>
<rect x="707.6" y="781.8" width="8.6" height="493.8"/>
<rect x="792.2" y="781.8" width="8.6" height="493.8"/>
<rect x="876.8" y="781.8" width="8.6" height="493.8"/>
<rect x="961.4" y="781.8" width="8.6" height="493.8"/>
<rect x="1046" y="781.8" width="8.6" height="493.8"/>
<rect x="1130.6" y="781.8" width="8.6" height="493.8"/>
<rect x="1215.2" y="781.8" width="8.6" height="493.8"/>
<rect x="1299.8" y="781.8" width="8.6" height="493.8"/>
<rect x="1384.4" y="781.8" width="8.6" height="493.8"/>
<rect x="1469" y="781.8" width="8.6" height="493.8"/>
<rect x="1553.6" y="781.8" width="8.6" height="493.8"/>
<rect x="1638.2" y="781.8" width="8.6" height="493.8"/>
<rect x="1722.8" y="781.8" width="8.6" height="493.8"/>
<rect x="283" y="1240" width="10.2" height="30"/>
</g>
<text x="305.7" y="770.9" font-size="21.5" fill="#1A1A1A" stroke="#1A1A1A" stroke-width="0.3" textLength="50.6" lengthAdjust="spacingAndGlyphs">READ</text>
<text x="388.9" y="767.7" font-size="21.5" fill="#1A1A1A" stroke="#1A1A1A" stroke-width="0.3" textLength="49.7" lengthAdjust="spacingAndGlyphs">THCA</text>
<text x="473.5" y="767.7" font-size="21.5" fill="#1A1A1A" stroke="#1A1A1A" stroke-width="0.3" textLength="48.2" lengthAdjust="spacingAndGlyphs">TGCT</text>
<text x="561" y="767.7" font-size="21.5" fill="#1A1A1A" stroke="#1A1A1A" stroke-width="0.3" textLength="43.5" lengthAdjust="spacingAndGlyphs">KICH</text>
<text x="641.8" y="767.7" font-size="21.5" fill="#1A1A1A" stroke="#1A1A1A" stroke-width="0.3" textLength="50.7" lengthAdjust="spacingAndGlyphs">BRCA</text>
<text x="726.4" y="767.7" font-size="21.5" fill="#1A1A1A" stroke="#1A1A1A" stroke-width="0.3" textLength="50.7" lengthAdjust="spacingAndGlyphs">CHOL</text>
<text x="810.1" y="767.7" font-size="21.5" fill="#1A1A1A" stroke="#1A1A1A" stroke-width="0.3" textLength="49.2" lengthAdjust="spacingAndGlyphs">PAAD</text>
<text x="899.1" y="767.7" font-size="21.5" fill="#1A1A1A" stroke="#1A1A1A" stroke-width="0.3" textLength="43.9" lengthAdjust="spacingAndGlyphs">KIRC</text>
<text x="984.3" y="767.7" font-size="21.5" fill="#1A1A1A" stroke="#1A1A1A" stroke-width="0.3" textLength="42.7" lengthAdjust="spacingAndGlyphs">KIRP</text>
<text x="1071.1" y="767.7" font-size="21.5" fill="#1A1A1A" stroke="#1A1A1A" stroke-width="0.3" textLength="39.7" lengthAdjust="spacingAndGlyphs">GBC</text>
<text x="1154.3" y="767.7" font-size="21.5" fill="#1A1A1A" stroke="#1A1A1A" stroke-width="0.3" textLength="41.8" lengthAdjust="spacingAndGlyphs">LIHC</text>
<text x="1233.6" y="767.7" font-size="21.5" fill="#1A1A1A" stroke="#1A1A1A" stroke-width="0.3" textLength="50.7" lengthAdjust="spacingAndGlyphs">HNSC</text>
<text x="1319.4" y="767.7" font-size="21.5" fill="#1A1A1A" stroke="#1A1A1A" stroke-width="0.3" textLength="49.2" lengthAdjust="spacingAndGlyphs">ESCA</text>
<text x="1399.7" y="767.7" font-size="21.5" fill="#1A1A1A" stroke="#1A1A1A" stroke-width="0.3" textLength="51.7" lengthAdjust="spacingAndGlyphs">COAD</text>
<text x="1486.9" y="767.7" font-size="21.5" fill="#1A1A1A" stroke="#1A1A1A" stroke-width="0.3" textLength="47.7" lengthAdjust="spacingAndGlyphs">STAD</text>
<text x="1571.2" y="767.7" font-size="21.5" fill="#1A1A1A" stroke="#1A1A1A" stroke-width="0.3" textLength="47.7" lengthAdjust="spacingAndGlyphs">LUAD</text>
<text x="1658.4" y="767.7" font-size="21.5" fill="#1A1A1A" stroke="#1A1A1A" stroke-width="0.3" textLength="47.7" lengthAdjust="spacingAndGlyphs">LUSC</text>
<line x1="284.5" x2="293.2" y1="934" y2="934" stroke="#333" stroke-width="3.3"/>
<text x="261.2" y="943.2" font-size="30" fill="#4D4D4D" stroke="#4D4D4D" stroke-width="0.3" textLength="13.6" lengthAdjust="spacingAndGlyphs">0</text>
<line x1="284.5" x2="293.2" y1="1093.2" y2="1093.2" stroke="#333" stroke-width="3.3"/>
<text x="261.2" y="1102.4" font-size="30" fill="#4D4D4D" stroke="#4D4D4D" stroke-width="0.3" textLength="13.6" lengthAdjust="spacingAndGlyphs">2</text>
<line x1="242.3" x2="258.4" y1="1091" y2="1091" stroke="#4D4D4D" stroke-width="3.5"/>
<line x1="284.5" x2="293.2" y1="1252.4" y2="1252.4" stroke="#333" stroke-width="3.3"/>
<text x="261.2" y="1261.6" font-size="30" fill="#4D4D4D" stroke="#4D4D4D" stroke-width="0.3" textLength="13.6" lengthAdjust="spacingAndGlyphs">4</text>
<line x1="242.3" x2="258.4" y1="1250.2" y2="1250.2" stroke="#4D4D4D" stroke-width="3.5"/>
<text transform="translate(219.2,1104.6) rotate(-90)" x="0" y="0" font-size="30.5" fill="#000" textLength="128.4" lengthAdjust="spacingAndGlyphs">TMB(log <tspan font-size="21">10</tspan>)</text>
<rect x="1050.3" y="731.2" width="82.6" height="556.7" fill="none" stroke="#FF0000" stroke-width="2"/>
</g>
<g id="panel-c">
<g shape-rendering="crispEdges">
<rect x="291.2" y="1523.1" width="72.4" height="641.6" fill="#8DD3C7"/>
<rect x="371.6" y="1523.1" width="72.4" height="641.6" fill="#8DD3C7"/>
<rect x="452" y="1523.1" width="72.4" height="641.6" fill="#8DD3C7"/>
<rect x="532.4" y="1523.1" width="72.4" height="2.5" fill="#4DAF4A"/>
<rect x="532.4" y="1525.6" width="72.4" height="639.1" fill="#8DD3C7"/>
<rect x="612.8" y="1523.1" width="72.4" height="13.6" fill="#BF812D"/>
<rect x="612.8" y="1536.7" width="72.4" height="628" fill="#8DD3C7"/>
<rect x="693.2" y="1523.1" width="72.4" height="9.3" fill="#A50026"/>
<rect x="693.2" y="1532.4" width="72.4" height="22.5" fill="#B3DE69"/>
<rect x="693.2" y="1554.9" width="72.4" height="34.2" fill="#FFFFB3"/>
<rect x="693.2" y="1589.1" width="72.4" height="575.6" fill="#8DD3C7"/>
<rect x="773.6" y="1523.1" width="72.4" height="9.3" fill="#B3DE69"/>
<rect x="773.6" y="1532.4" width="72.4" height="24.3" fill="#FDB462"/>
<rect x="773.6" y="1556.7" width="72.4" height="99.3" fill="#FFFFB3"/>
<rect x="773.6" y="1656" width="72.4" height="508.7" fill="#8DD3C7"/>
<rect x="854" y="1523.1" width="72.4" height="43.8" fill="#FCCDE5"/>
<rect x="854" y="1566.9" width="72.4" height="25.9" fill="#B3DE69"/>
<rect x="854" y="1592.8" width="72.4" height="12.6" fill="#FDB462"/>
<rect x="854" y="1605.4" width="72.4" height="38.2" fill="#BEBADA"/>
<rect x="854" y="1643.6" width="72.4" height="28.7" fill="#FFFFB3"/>
<rect x="854" y="1672.3" width="72.4" height="492.4" fill="#8DD3C7"/>
<rect x="934.4" y="1523.1" width="72.4" height="12.4" fill="#FF7F00"/>
<rect x="934.4" y="1535.5" width="72.4" height="6.7" fill="#CCEBC5"/>
<rect x="934.4" y="1542.2" width="72.4" height="21" fill="#FCCDE5"/>
<rect x="934.4" y="1563.2" width="72.4" height="18.2" fill="#B3DE69"/>
<rect x="934.4" y="1581.4" width="72.4" height="27.1" fill="#E6F598"/>
<rect x="934.4" y="1608.5" width="72.4" height="29" fill="#FDB462"/>
<rect x="934.4" y="1637.5" width="72.4" height="31.7" fill="#BEBADA"/>
<rect x="934.4" y="1669.2" width="72.4" height="4.7" fill="#FFFFB3"/>
<rect x="934.4" y="1673.9" width="72.4" height="490.8" fill="#8DD3C7"/>
<rect x="1014.8" y="1523.1" width="72.4" height="17" fill="#FF7F00"/>
<rect x="1014.8" y="1540.1" width="72.4" height="75.2" fill="#B3DE69"/>
<rect x="1014.8" y="1615.3" width="72.4" height="26.2" fill="#FDB462"/>
<rect x="1014.8" y="1641.5" width="72.4" height="74.9" fill="#FFFFB3"/>
<rect x="1014.8" y="1716.4" width="72.4" height="448.3" fill="#8DD3C7"/>
<rect x="1095.2" y="1523.1" width="72.4" height="33.9" fill="#B3DE69"/>
<rect x="1095.2" y="1557" width="72.4" height="221.7" fill="#FDB462"/>
<rect x="1095.2" y="1778.7" width="72.4" height="386" fill="#8DD3C7"/>
<rect x="1175.6" y="1523.1" width="72.4" height="56.1" fill="#CCEBC5"/>
<rect x="1175.6" y="1579.2" width="72.4" height="96.8" fill="#FCCDE5"/>
<rect x="1175.6" y="1676" width="72.4" height="9.6" fill="#FDB462"/>
<rect x="1175.6" y="1685.6" width="72.4" height="161.3" fill="#BEBADA"/>
<rect x="1175.6" y="1846.9" width="72.4" height="13.5" fill="#FFFFB3"/>
<rect x="1175.6" y="1860.4" width="72.4" height="304.3" fill="#8DD3C7"/>
<rect x="1256" y="1523.1" width="72.4" height="60.1" fill="#FF7F00"/>
<rect x="1256" y="1583.2" width="72.4" height="17.9" fill="#FFED6F"/>
<rect x="1256" y="1601.1" width="72.4" height="45.9" fill="#CCEBC5"/>
<rect x="1256" y="1647" width="72.4" height="7.1" fill="#E6F598"/>
<rect x="1256" y="1654.1" width="72.4" height="9.6" fill="#E41A1C"/>
<rect x="1256" y="1663.7" width="72.4" height="5.5" fill="#FDB462"/>
<rect x="1256" y="1669.2" width="72.4" height="47.2" fill="#80B1D3"/>
<rect x="1256" y="1716.4" width="72.4" height="132.1" fill="#BEBADA"/>
<rect x="1256" y="1848.5" width="72.4" height="11.9" fill="#FFFFB3"/>
<rect x="1256" y="1860.4" width="72.4" height="304.3" fill="#8DD3C7"/>
<rect x="1336.4" y="1523.1" width="72.4" height="10.5" fill="#DE77AE"/>
<rect x="1336.4" y="1533.6" width="72.4" height="54.9" fill="#FF7F00"/>
<rect x="1336.4" y="1588.5" width="72.4" height="81" fill="#CCEBC5"/>
<rect x="1336.4" y="1669.5" width="72.4" height="56.5" fill="#BC80BD"/>
<rect x="1336.4" y="1726" width="72.4" height="136" fill="#D9D9D9"/>
<rect x="1336.4" y="1862" width="72.4" height="22.7" fill="#FCCDE5"/>
<rect x="1336.4" y="1884.7" width="72.4" height="5.8" fill="#E6F598"/>
<rect x="1336.4" y="1890.5" width="72.4" height="9.9" fill="#FDB462"/>
<rect x="1336.4" y="1900.4" width="72.4" height="20.5" fill="#BEBADA"/>
<rect x="1336.4" y="1920.9" width="72.4" height="243.8" fill="#8DD3C7"/>
<rect x="1416.8" y="1523.1" width="72.4" height="13.3" fill="#DE77AE"/>
<rect x="1416.8" y="1536.4" width="72.4" height="60.7" fill="#FF7F00"/>
<rect x="1416.8" y="1597.1" width="72.4" height="24.7" fill="#FFED6F"/>
<rect x="1416.8" y="1621.8" width="72.4" height="29.9" fill="#CCEBC5"/>
<rect x="1416.8" y="1651.7" width="72.4" height="13.8" fill="#E41A1C"/>
<rect x="1416.8" y="1665.5" width="72.4" height="3.7" fill="#FDB462"/>
<rect x="1416.8" y="1669.2" width="72.4" height="32.1" fill="#4DAF4A"/>
<rect x="1416.8" y="1701.3" width="72.4" height="109.4" fill="#80B1D3"/>
<rect x="1416.8" y="1810.7" width="72.4" height="150" fill="#BEBADA"/>
<rect x="1416.8" y="1960.7" width="72.4" height="11.2" fill="#FFFFB3"/>
<rect x="1416.8" y="1971.9" width="72.4" height="192.8" fill="#8DD3C7"/>
<rect x="1497.2" y="1523.1" width="72.4" height="40.1" fill="#FF7F00"/>
<rect x="1497.2" y="1563.2" width="72.4" height="39.1" fill="#FFED6F"/>
<rect x="1497.2" y="1602.3" width="72.4" height="109.2" fill="#CCEBC5"/>
<rect x="1497.2" y="1711.5" width="72.4" height="47.7" fill="#B3DE69"/>
<rect x="1497.2" y="1759.2" width="72.4" height="25.9" fill="#E6F598"/>
<rect x="1497.2" y="1785.1" width="72.4" height="44.8" fill="#FDB462"/>
<rect x="1497.2" y="1829.9" width="72.4" height="17.9" fill="#80B1D3"/>
<rect x="1497.2" y="1847.8" width="72.4" height="109.1" fill="#FB8072"/>
<rect x="1497.2" y="1956.9" width="72.4" height="17.6" fill="#BEBADA"/>
<rect x="1497.2" y="1974.5" width="72.4" height="15.7" fill="#FFFFB3"/>
<rect x="1497.2" y="1990.2" width="72.4" height="174.5" fill="#8DD3C7"/>
<rect x="1577.6" y="1523.1" width="72.4" height="35.5" fill="#FF7F00"/>
<rect x="1577.6" y="1558.6" width="72.4" height="79.8" fill="#CCEBC5"/>
<rect x="1577.6" y="1638.4" width="72.4" height="5.6" fill="#BC80BD"/>
<rect x="1577.6" y="1644" width="72.4" height="25.9" fill="#B3DE69"/>
<rect x="1577.6" y="1669.9" width="72.4" height="14.1" fill="#E6F598"/>
<rect x="1577.6" y="1684" width="72.4" height="10.8" fill="#FDB462"/>
<rect x="1577.6" y="1694.8" width="72.4" height="300.2" fill="#FB8072"/>
<rect x="1577.6" y="1995" width="72.4" height="22.8" fill="#FFFFB3"/>
<rect x="1577.6" y="2017.8" width="72.4" height="146.9" fill="#8DD3C7"/>
</g>
<rect x="280.4" y="1492.3" width="1380.6" height="703.1" fill="none" stroke="#333333" stroke-width="2.2"/>
<line x1="269.6" x2="280.4" y1="2164.7" y2="2164.7" stroke="#333333" stroke-width="3.3"/>
<text x="214.8" y="2176.6" font-size="31" fill="#4D4D4D" stroke="#4D4D4D" stroke-width="0.3" textLength="46.2" lengthAdjust="spacingAndGlyphs">0.00</text>
<line x1="269.6" x2="280.4" y1="2004.3" y2="2004.3" stroke="#333333" stroke-width="3.3"/>
<text x="214.8" y="2016.2" font-size="31" fill="#4D4D4D" stroke="#4D4D4D" stroke-width="0.3" textLength="46.2" lengthAdjust="spacingAndGlyphs">0.25</text>
<line x1="269.6" x2="280.4" y1="1843.9" y2="1843.9" stroke="#333333" stroke-width="3.3"/>
<text x="214.8" y="1855.8" font-size="31" fill="#4D4D4D" stroke="#4D4D4D" stroke-width="0.3" textLength="46.2" lengthAdjust="spacingAndGlyphs">0.50</text>
<line x1="269.6" x2="280.4" y1="1683.5" y2="1683.5" stroke="#333333" stroke-width="3.3"/>
<text x="214.8" y="1695.4" font-size="31" fill="#4D4D4D" stroke="#4D4D4D" stroke-width="0.3" textLength="46.2" lengthAdjust="spacingAndGlyphs">0.75</text>
<line x1="269.6" x2="280.4" y1="1523.1" y2="1523.1" stroke="#333333" stroke-width="3.3"/>
<text x="214.8" y="1535" font-size="31" fill="#4D4D4D" stroke="#4D4D4D" stroke-width="0.3" textLength="46.2" lengthAdjust="spacingAndGlyphs">1.00</text>
<line x1="327.4" x2="327.4" y1="2195.4" y2="2206.4" stroke="#333333" stroke-width="3.3"/>
<text transform="translate(333.1,2289.2) rotate(-90)" x="0" y="0" font-size="32" fill="#4D4D4D" stroke="#4D4D4D" stroke-width="0.3" textLength="72.2" lengthAdjust="spacingAndGlyphs">COAD</text>
<line x1="407.8" x2="407.8" y1="2195.4" y2="2206.4" stroke="#333333" stroke-width="3.3"/>
<text transform="translate(415.3,2282.7) rotate(-90)" x="0" y="0" font-size="32" fill="#4D4D4D" stroke="#4D4D4D" stroke-width="0.3" textLength="64.4" lengthAdjust="spacingAndGlyphs">PAAD</text>
<line x1="488.2" x2="488.2" y1="2195.4" y2="2206.4" stroke="#333333" stroke-width="3.3"/>
<text transform="translate(498.6,2282.7) rotate(-90)" x="0" y="0" font-size="32" fill="#4D4D4D" stroke="#4D4D4D" stroke-width="0.3" textLength="69.1" lengthAdjust="spacingAndGlyphs">READ</text>
<line x1="568.6" x2="568.6" y1="2195.4" y2="2206.4" stroke="#333333" stroke-width="3.3"/>
<text transform="translate(576.6,2279.4) rotate(-90)" x="0" y="0" font-size="32" fill="#4D4D4D" stroke="#4D4D4D" stroke-width="0.3" textLength="64.5" lengthAdjust="spacingAndGlyphs">STAD</text>
<line x1="649" x2="649" y1="2195.4" y2="2206.4" stroke="#333333" stroke-width="3.3"/>
<text transform="translate(656.8,2275) rotate(-90)" x="0" y="0" font-size="32" fill="#4D4D4D" stroke="#4D4D4D" stroke-width="0.3" textLength="57.5" lengthAdjust="spacingAndGlyphs">KICH</text>
<line x1="729.4" x2="729.4" y1="2195.4" y2="2206.4" stroke="#333333" stroke-width="3.3"/>
<text transform="translate(740.8,2278.7) rotate(-90)" x="0" y="0" font-size="32" fill="#4D4D4D" stroke="#4D4D4D" stroke-width="0.3" textLength="65.7" lengthAdjust="spacingAndGlyphs">ESCA</text>
<line x1="809.8" x2="809.8" y1="2195.4" y2="2206.4" stroke="#333333" stroke-width="3.3"/>
<text transform="translate(820.9,2271.9) rotate(-90)" x="0" y="0" font-size="32" fill="#4D4D4D" stroke="#4D4D4D" stroke-width="0.3" textLength="52.1" lengthAdjust="spacingAndGlyphs">GBC</text>
<line x1="890.2" x2="890.2" y1="2195.4" y2="2206.4" stroke="#333333" stroke-width="3.3"/>
<text transform="translate(900,2280.8) rotate(-90)" x="0" y="0" font-size="32" fill="#4D4D4D" stroke="#4D4D4D" stroke-width="0.3" textLength="65.6" lengthAdjust="spacingAndGlyphs">THCA</text>
<line x1="970.6" x2="970.6" y1="2195.4" y2="2206.4" stroke="#333333" stroke-width="3.3"/>
<text transform="translate(980.5,2280.2) rotate(-90)" x="0" y="0" font-size="32" fill="#4D4D4D" stroke="#4D4D4D" stroke-width="0.3" textLength="65" lengthAdjust="spacingAndGlyphs">CHOL</text>
<line x1="1051" x2="1051" y1="2195.4" y2="2206.4" stroke="#333333" stroke-width="3.3"/>
<text transform="translate(1061.2,2279.3) rotate(-90)" x="0" y="0" font-size="32" fill="#4D4D4D" stroke="#4D4D4D" stroke-width="0.3" textLength="65.6" lengthAdjust="spacingAndGlyphs">BRCA</text>
<line x1="1131.4" x2="1131.4" y1="2195.4" y2="2206.4" stroke="#333333" stroke-width="3.3"/>
<text transform="translate(1142.2,2281.1) rotate(-90)" x="0" y="0" font-size="32" fill="#4D4D4D" stroke="#4D4D4D" stroke-width="0.3" textLength="65.9" lengthAdjust="spacingAndGlyphs">HNSC</text>
<line x1="1211.8" x2="1211.8" y1="2195.4" y2="2206.4" stroke="#333333" stroke-width="3.3"/>
<text transform="translate(1222.6,2280.8) rotate(-90)" x="0" y="0" font-size="32" fill="#4D4D4D" stroke="#4D4D4D" stroke-width="0.3" textLength="64.7" lengthAdjust="spacingAndGlyphs">TGCT</text>
<line x1="1292.2" x2="1292.2" y1="2195.4" y2="2206.4" stroke="#333333" stroke-width="3.3"/>
<text transform="translate(1305.2,2270.3) rotate(-90)" x="0" y="0" font-size="32" fill="#4D4D4D" stroke="#4D4D4D" stroke-width="0.3" textLength="59.1" lengthAdjust="spacingAndGlyphs">KIRC</text>
<line x1="1372.6" x2="1372.6" y1="2195.4" y2="2206.4" stroke="#333333" stroke-width="3.3"/>
<text transform="translate(1383.4,2269.4) rotate(-90)" x="0" y="0" font-size="32" fill="#4D4D4D" stroke="#4D4D4D" stroke-width="0.3" textLength="54.2" lengthAdjust="spacingAndGlyphs">LIHC</text>
<line x1="1453" x2="1453" y1="2195.4" y2="2206.4" stroke="#333333" stroke-width="3.3"/>
<text transform="translate(1463.8,2271.6) rotate(-90)" x="0" y="0" font-size="32" fill="#4D4D4D" stroke="#4D4D4D" stroke-width="0.3" textLength="55.5" lengthAdjust="spacingAndGlyphs">KIRP</text>
<line x1="1533.4" x2="1533.4" y1="2195.4" y2="2206.4" stroke="#333333" stroke-width="3.3"/>
<text transform="translate(1544.2,2277.1) rotate(-90)" x="0" y="0" font-size="32" fill="#4D4D4D" stroke="#4D4D4D" stroke-width="0.3" textLength="64.1" lengthAdjust="spacingAndGlyphs">LUSC</text>
<line x1="1613.8" x2="1613.8" y1="2195.4" y2="2206.4" stroke="#333333" stroke-width="3.3"/>
<text transform="translate(1625.8,2278) rotate(-90)" x="0" y="0" font-size="32" fill="#4D4D4D" stroke="#4D4D4D" stroke-width="0.3" textLength="62.8" lengthAdjust="spacingAndGlyphs">LUAD</text>
<text transform="translate(155.7,1883.4) rotate(-90)" x="0" y="0" font-size="31.5" fill="#000" stroke="#000" stroke-width="0.3" textLength="78" lengthAdjust="spacingAndGlyphs">Weight</text>
<rect x="771" y="1509.9" width="80.1" height="664.6" fill="none" stroke="#FF0000" stroke-width="1.6"/>
<rect x="386.3" y="2380.7" width="25.6" height="25.4" fill="#8DD3C7"/>
<text x="434.6" y="2399.5" font-size="18.3" fill="#000" stroke="#000" stroke-width="0.3" textLength="64.67" lengthAdjust="spacingAndGlyphs">S1.AGE</text>
<rect x="386.3" y="2411.3" width="25.6" height="25.4" fill="#FFFFB3"/>
<text x="434.6" y="2430" font-size="18.3" fill="#000" stroke="#000" stroke-width="0.3" textLength="101.47" lengthAdjust="spacingAndGlyphs">S2.APOBEC</text>
<rect x="386.3" y="2441.9" width="25.6" height="25.4" fill="#BEBADA"/>
<text x="434.6" y="2460.5" font-size="18.3" fill="#000" stroke="#000" stroke-width="0.3" textLength="73.63" lengthAdjust="spacingAndGlyphs">S3.dDSB</text>
<rect x="548.3" y="2380.7" width="25.6" height="25.4" fill="#FB8072"/>
<text x="596.9" y="2399.5" font-size="18.3" fill="#000" stroke="#000" stroke-width="0.3" textLength="96.51" lengthAdjust="spacingAndGlyphs">S4.Smoking</text>
<rect x="548.3" y="2411.3" width="25.6" height="25.4" fill="#80B1D3"/>
<text x="596.9" y="2430" font-size="18.3" fill="#000" stroke="#000" stroke-width="0.3" textLength="91.55" lengthAdjust="spacingAndGlyphs">Signature.5</text>
<rect x="548.3" y="2441.9" width="25.6" height="25.4" fill="#4DAF4A"/>
<text x="596.9" y="2460.5" font-size="18.3" fill="#000" stroke="#000" stroke-width="0.3" textLength="77.59" lengthAdjust="spacingAndGlyphs">S6.dDMR</text>
<rect x="710.4" y="2380.7" width="25.6" height="25.4" fill="#FDB462"/>
<text x="758.6" y="2399.5" font-size="18.3" fill="#000" stroke="#000" stroke-width="0.3" textLength="51.73" lengthAdjust="spacingAndGlyphs">S7.UV</text>
<rect x="710.4" y="2411.3" width="25.6" height="25.4" fill="#E41A1C"/>
<text x="758.6" y="2430" font-size="18.3" fill="#000" stroke="#000" stroke-width="0.3" textLength="75.61" lengthAdjust="spacingAndGlyphs">S9.POLH</text>
<rect x="710.4" y="2441.9" width="25.6" height="25.4" fill="#E6F598"/>
<text x="758.6" y="2460.5" font-size="18.3" fill="#000" stroke="#000" stroke-width="0.3" textLength="84.58" lengthAdjust="spacingAndGlyphs">S10.POLE</text>
<rect x="882.1" y="2380.7" width="25.6" height="25.4" fill="#B3DE69"/>
<text x="930.4" y="2399.5" font-size="18.3" fill="#000" stroke="#000" stroke-width="0.3" textLength="111.43" lengthAdjust="spacingAndGlyphs">S13.APOBEC</text>
<rect x="882.1" y="2411.3" width="25.6" height="25.4" fill="#FCCDE5"/>
<text x="930.4" y="2430" font-size="18.3" fill="#000" stroke="#000" stroke-width="0.3" textLength="87.54" lengthAdjust="spacingAndGlyphs">S15.dDMR</text>
<rect x="882.1" y="2441.9" width="25.6" height="25.4" fill="#D9D9D9"/>
<text x="930.4" y="2460.5" font-size="18.3" fill="#000" stroke="#000" stroke-width="0.3" textLength="101.51" lengthAdjust="spacingAndGlyphs">Signature.16</text>
<rect x="1054.3" y="2380.7" width="25.6" height="25.4" fill="#A50026"/>
<text x="1102.6" y="2399.5" font-size="18.3" fill="#000" stroke="#000" stroke-width="0.3" textLength="101.51" lengthAdjust="spacingAndGlyphs">Signature.17</text>
<rect x="1054.3" y="2411.3" width="25.6" height="25.4" fill="#BF812D"/>
<text x="1102.6" y="2430" font-size="18.3" fill="#000" stroke="#000" stroke-width="0.3" textLength="101.51" lengthAdjust="spacingAndGlyphs">Signature.21</text>
<rect x="1054.3" y="2441.9" width="25.6" height="25.4" fill="#BC80BD"/>
<text x="1101.2" y="2462.7" font-size="18.3" fill="#000" stroke="#000" stroke-width="0.3" textLength="167" lengthAdjust="spacingAndGlyphs">S22.Aristolochic acid</text>
<rect x="1276.9" y="2380.7" width="25.6" height="25.4" fill="#CCEBC5"/>
<text x="1325.1" y="2399.5" font-size="18.3" fill="#000" stroke="#000" stroke-width="0.3" textLength="105.48" lengthAdjust="spacingAndGlyphs">S24.Aflatoxin</text>
<rect x="1276.9" y="2411.3" width="25.6" height="25.4" fill="#FFED6F"/>
<text x="1325.1" y="2430" font-size="18.3" fill="#000" stroke="#000" stroke-width="0.3" textLength="101.51" lengthAdjust="spacingAndGlyphs">Signature.25</text>
<rect x="1276.9" y="2441.9" width="25.6" height="25.4" fill="#FF7F00"/>
<text x="1325.1" y="2460.5" font-size="18.3" fill="#000" stroke="#000" stroke-width="0.3" textLength="87.54" lengthAdjust="spacingAndGlyphs">S26.dDMR</text>
<rect x="1449.3" y="2380.7" width="25.6" height="25.4" fill="#DE77AE"/>
<text x="1497.1" y="2399.5" font-size="18.3" fill="#000" stroke="#000" stroke-width="0.3" textLength="101.51" lengthAdjust="spacingAndGlyphs">Signature.27</text>
</g>
</svg>
</body></html>
